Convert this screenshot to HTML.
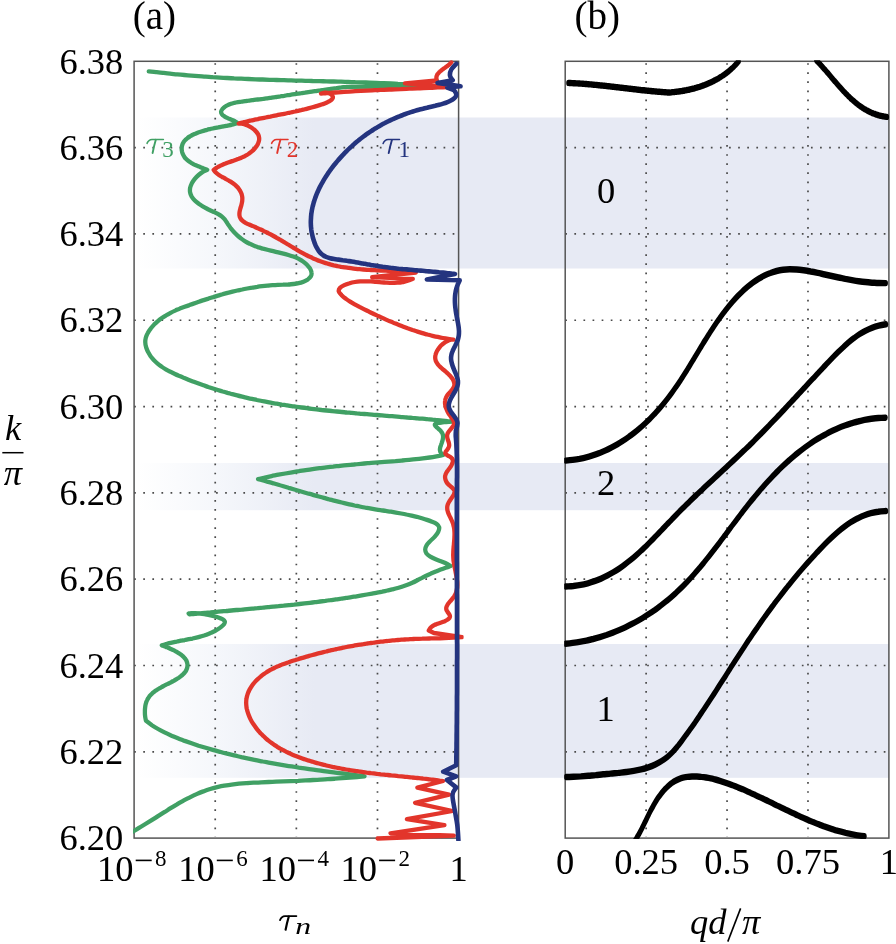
<!DOCTYPE html>
<html><head><meta charset="utf-8">
<style>
html,body{margin:0;padding:0;background:#fff;}
body{width:896px;height:944px;overflow:hidden;}
svg{display:block;will-change:transform;}
.t{font-family:"Liberation Serif",serif;font-size:36.5px;fill:#000;}
.sup{font-size:23px;}
.i{font-family:"Liberation Serif",serif;font-style:italic;}
.g{stroke:#4a4a4a;stroke-width:1.7;stroke-dasharray:1.7 7.4;}
</style></head><body>
<svg width="896" height="944" viewBox="0 0 896 944">
<defs>
<linearGradient id="gr" x1="137.5" y1="0" x2="458.6" y2="0" gradientUnits="userSpaceOnUse">
<stop offset="0" stop-color="#ffffff"/>
<stop offset="0.25" stop-color="#f5f7fb"/>
<stop offset="0.55" stop-color="#e7eaf4"/>
<stop offset="1" stop-color="#e7eaf4"/>
</linearGradient>
<clipPath id="ca"><rect x="133.1" y="60.3" width="330.5" height="780.8000000000001"/></clipPath>
<clipPath id="cb"><rect x="564.2" y="60.3" width="325.69999999999993" height="778.8000000000001"/></clipPath>
</defs>
<rect x="137.5" y="117.5" width="321.1" height="151.0" fill="url(#gr)"/>
<rect x="458.6" y="117.5" width="430.3" height="151.0" fill="#e7eaf4"/>
<rect x="137.5" y="463.0" width="321.1" height="47.2" fill="url(#gr)"/>
<rect x="458.6" y="463.0" width="430.3" height="47.2" fill="#e7eaf4"/>
<rect x="137.5" y="644.0" width="321.1" height="133.8" fill="url(#gr)"/>
<rect x="458.6" y="644.0" width="430.3" height="133.8" fill="#e7eaf4"/>
<line x1="134.15" y1="147.61" x2="457.60" y2="147.61" class="g"/>
<line x1="565.25" y1="147.61" x2="887.90" y2="147.61" class="g"/>
<line x1="134.15" y1="233.92" x2="457.60" y2="233.92" class="g"/>
<line x1="565.25" y1="233.92" x2="887.90" y2="233.92" class="g"/>
<line x1="134.15" y1="320.23" x2="457.60" y2="320.23" class="g"/>
<line x1="565.25" y1="320.23" x2="887.90" y2="320.23" class="g"/>
<line x1="134.15" y1="406.54" x2="457.60" y2="406.54" class="g"/>
<line x1="565.25" y1="406.54" x2="887.90" y2="406.54" class="g"/>
<line x1="134.15" y1="492.86" x2="457.60" y2="492.86" class="g"/>
<line x1="565.25" y1="492.86" x2="887.90" y2="492.86" class="g"/>
<line x1="134.15" y1="579.17" x2="457.60" y2="579.17" class="g"/>
<line x1="565.25" y1="579.17" x2="887.90" y2="579.17" class="g"/>
<line x1="134.15" y1="665.48" x2="457.60" y2="665.48" class="g"/>
<line x1="565.25" y1="665.48" x2="887.90" y2="665.48" class="g"/>
<line x1="134.15" y1="751.79" x2="457.60" y2="751.79" class="g"/>
<line x1="565.25" y1="751.79" x2="887.90" y2="751.79" class="g"/>
<line x1="215.22" y1="63.15" x2="215.22" y2="837.10" class="g"/>
<line x1="646.12" y1="63.15" x2="646.12" y2="837.10" class="g"/>
<line x1="296.35" y1="63.15" x2="296.35" y2="837.10" class="g"/>
<line x1="727.05" y1="63.15" x2="727.05" y2="837.10" class="g"/>
<line x1="377.48" y1="63.15" x2="377.48" y2="837.10" class="g"/>
<line x1="807.98" y1="63.15" x2="807.98" y2="837.10" class="g"/>
<rect x="134.1" y="61.3" width="324.5" height="776.8" fill="none" stroke="#555" stroke-width="1.5"/>
<rect x="565.2" y="61.3" width="323.7" height="776.8" fill="none" stroke="#555" stroke-width="1.5"/>
<g clip-path="url(#ca)">
<path d="M148.8,71.3 C150.0,71.4 153.5,71.9 155.9,72.1 C158.3,72.4 160.6,72.7 163.0,72.9 C165.4,73.2 167.7,73.5 170.1,73.7 C172.5,73.9 174.8,74.2 177.2,74.4 C179.6,74.6 181.9,74.8 184.3,75.0 C186.7,75.2 189.0,75.4 191.4,75.6 C193.8,75.8 196.1,76.0 198.5,76.2 C200.9,76.4 203.2,76.5 205.6,76.7 C208.0,76.9 210.4,77.0 212.7,77.2 C215.1,77.3 217.5,77.5 219.8,77.6 C222.2,77.7 224.6,77.9 227.0,78.0 C229.3,78.1 231.7,78.2 234.1,78.4 C236.5,78.5 238.8,78.6 241.2,78.7 C243.6,78.8 245.9,78.9 248.3,79.0 C250.7,79.1 253.1,79.2 255.4,79.3 C257.8,79.4 260.2,79.5 262.6,79.5 C264.9,79.6 267.3,79.7 269.7,79.8 C272.1,79.9 274.4,79.9 276.8,80.0 C279.2,80.1 281.6,80.2 283.9,80.2 C286.3,80.3 288.7,80.4 291.1,80.4 C293.4,80.5 295.8,80.6 298.2,80.6 C300.6,80.7 302.9,80.7 305.3,80.8 C307.7,80.9 310.1,80.9 312.5,81.0 C314.8,81.0 317.2,81.1 319.6,81.2 C322.0,81.2 324.3,81.3 326.7,81.3 C329.1,81.4 331.5,81.5 333.8,81.5 C336.2,81.6 338.6,81.7 341.0,81.7 C343.3,81.8 345.7,81.9 348.1,81.9 C350.5,82.0 352.8,82.1 355.2,82.2 C357.6,82.2 360.0,82.3 362.3,82.4 C364.7,82.5 367.1,82.5 369.5,82.6 C371.8,82.7 374.2,82.8 376.6,82.9 C379.0,83.0 381.3,83.1 383.7,83.2 C386.1,83.3 388.5,83.4 390.8,83.5 C393.2,83.6 395.6,83.7 397.9,83.9 C400.3,84.0 402.7,84.1 405.1,84.2 C407.4,84.4 409.8,84.5 412.2,84.6 C414.5,84.8 416.9,84.9 419.3,85.1 C421.7,85.2 425.2,85.5 426.4,85.6 L392.0,86.5 L347.0,86.8 C346.4,86.9 344.6,87.1 343.5,87.2 C342.3,87.4 341.1,87.5 339.9,87.7 C338.7,87.9 337.6,88.0 336.4,88.2 C335.2,88.3 334.0,88.5 332.9,88.6 C331.7,88.8 330.5,89.0 329.4,89.1 C328.2,89.3 327.0,89.5 325.9,89.6 C324.7,89.8 323.5,89.9 322.4,90.1 C321.2,90.3 320.0,90.4 318.9,90.6 C317.7,90.8 316.6,90.9 315.4,91.1 C314.2,91.3 313.1,91.5 311.9,91.6 C310.8,91.8 309.6,92.0 308.4,92.1 C307.3,92.3 306.1,92.5 305.0,92.7 C303.8,92.8 302.7,93.0 301.5,93.2 C300.3,93.3 299.2,93.5 298.0,93.7 C296.9,93.9 295.7,94.0 294.6,94.2 C293.4,94.4 292.2,94.6 291.1,94.7 C289.9,94.9 288.8,95.1 287.6,95.2 C286.4,95.4 285.3,95.6 284.1,95.8 C282.9,95.9 281.8,96.1 280.6,96.3 C279.5,96.4 278.3,96.6 277.1,96.8 C276.0,97.0 274.8,97.1 273.6,97.3 C272.4,97.5 271.3,97.6 270.1,97.8 C268.9,98.0 267.8,98.1 266.6,98.3 C265.4,98.5 264.2,98.6 263.0,98.8 C261.9,98.9 260.7,99.1 259.5,99.3 C258.3,99.4 257.1,99.6 255.9,99.7 C254.7,99.9 253.6,100.0 252.4,100.2 C251.2,100.4 250.0,100.5 248.8,100.7 C247.6,100.8 246.4,101.0 245.2,101.1 C244.0,101.3 242.8,101.4 241.6,101.6 C240.4,101.7 239.2,101.9 238.0,102.1 C236.8,102.3 235.6,102.5 234.4,102.8 C233.3,103.1 232.1,103.4 231.0,103.8 C229.9,104.2 228.8,104.6 227.7,105.2 C226.7,105.7 225.6,106.3 224.6,107.0 C223.7,107.7 222.8,108.5 222.2,109.3 C221.6,110.0 221.1,110.9 221.1,111.7 C221.0,112.5 221.3,113.4 221.8,114.1 C222.3,114.9 223.2,115.6 224.2,116.2 C225.1,116.9 226.4,117.5 227.7,118.1 C228.9,118.7 230.3,119.2 231.6,119.8 C232.8,120.3 234.1,120.8 235.1,121.4 C236.2,122.0 237.3,122.9 237.7,123.2 C237.2,123.3 235.7,123.7 234.7,124.0 C233.8,124.2 232.8,124.4 231.9,124.6 C230.9,124.9 230.0,125.1 229.0,125.3 C228.1,125.5 227.2,125.6 226.3,125.8 C225.4,126.0 224.5,126.2 223.6,126.3 C222.7,126.5 221.8,126.7 220.9,126.8 C220.0,127.0 219.1,127.2 218.2,127.4 C217.3,127.5 216.4,127.7 215.5,127.9 C214.6,128.1 213.7,128.3 212.8,128.5 C211.9,128.7 211.0,128.9 210.0,129.1 C209.1,129.3 208.1,129.5 207.2,129.8 C206.2,130.0 205.3,130.3 204.3,130.6 C203.3,130.9 202.3,131.2 201.3,131.5 C200.3,131.8 199.2,132.2 198.2,132.5 C197.2,132.9 196.2,133.3 195.3,133.7 C194.3,134.1 193.3,134.6 192.4,135.0 C191.5,135.5 190.6,136.0 189.8,136.5 C188.9,137.0 188.1,137.6 187.4,138.2 C186.6,138.7 185.9,139.3 185.3,140.0 C184.7,140.6 184.1,141.3 183.7,142.0 C183.2,142.7 182.8,143.5 182.5,144.2 C182.2,145.0 182.0,145.9 181.8,146.7 C181.7,147.5 181.7,148.4 181.7,149.3 C181.7,150.1 181.9,151.0 182.1,151.9 C182.3,152.7 182.6,153.6 183.0,154.4 C183.4,155.3 183.8,156.1 184.4,156.9 C184.9,157.6 185.5,158.4 186.2,159.1 C186.9,159.8 187.7,160.4 188.5,161.0 C189.3,161.6 190.2,162.2 191.1,162.8 C192.0,163.3 193.0,163.8 193.9,164.3 C194.9,164.8 195.9,165.2 196.8,165.6 C197.8,166.1 198.8,166.5 199.7,166.8 C200.7,167.2 201.6,167.6 202.5,167.9 C203.4,168.3 204.2,168.6 205.0,168.9 C205.8,169.3 206.8,169.7 207.2,169.9 C206.5,170.2 204.3,171.1 202.8,171.9 C201.4,172.8 199.9,173.9 198.6,175.0 C197.2,176.2 195.9,177.5 194.8,178.9 C193.7,180.3 192.6,181.8 191.8,183.3 C191.1,184.8 190.4,186.4 190.1,187.9 C189.9,189.4 189.8,191.0 190.1,192.4 C190.3,193.8 190.9,195.2 191.7,196.6 C192.5,197.9 193.6,199.2 194.8,200.4 C196.0,201.6 197.4,202.7 198.8,203.8 C200.3,204.9 201.9,205.9 203.5,206.8 C205.1,207.8 206.8,208.6 208.5,209.5 C210.1,210.3 211.7,211.0 213.3,211.7 C214.8,212.4 216.4,213.1 217.8,213.9 C219.2,214.7 220.5,215.4 221.7,216.4 C222.9,217.4 224.0,218.5 225.0,219.7 C225.9,220.9 226.7,222.3 227.6,223.7 C228.5,225.0 229.4,226.5 230.4,227.8 C231.5,229.1 232.5,230.4 233.7,231.7 C234.8,232.9 236.0,234.1 237.3,235.3 C238.5,236.4 239.8,237.5 241.1,238.5 C242.5,239.5 243.8,240.5 245.2,241.3 C246.7,242.2 248.1,243.0 249.6,243.7 C251.0,244.4 252.5,245.1 254.1,245.7 C255.6,246.3 257.1,246.8 258.7,247.4 C260.3,247.9 261.9,248.3 263.5,248.8 C265.1,249.2 266.7,249.6 268.3,250.0 C270.0,250.4 271.6,250.8 273.3,251.2 C275.0,251.6 276.6,252.0 278.3,252.4 C280.0,252.8 281.7,253.2 283.4,253.6 C285.0,254.0 286.7,254.5 288.4,255.0 C290.1,255.5 291.8,256.0 293.4,256.6 C295.1,257.2 296.7,257.9 298.3,258.6 C299.8,259.4 301.3,260.2 302.7,261.2 C304.1,262.1 305.5,263.2 306.7,264.4 C307.9,265.6 309.0,267.0 309.9,268.3 C310.7,269.7 311.4,271.1 311.5,272.5 C311.7,273.8 311.5,275.2 310.9,276.3 C310.3,277.5 309.1,278.5 307.9,279.4 C306.6,280.3 305.0,281.1 303.5,281.7 C301.9,282.3 300.3,282.8 298.6,283.2 C297.0,283.6 295.3,283.8 293.6,284.0 C291.8,284.2 290.1,284.3 288.3,284.5 C286.6,284.6 284.8,284.6 283.0,284.7 C281.3,284.7 279.5,284.8 277.8,284.9 C276.0,285.0 274.3,285.1 272.5,285.2 C270.8,285.3 269.1,285.5 267.4,285.6 C265.6,285.8 263.9,286.0 262.2,286.2 C260.5,286.4 258.9,286.6 257.2,286.9 C255.5,287.1 253.8,287.4 252.2,287.6 C250.5,287.9 248.8,288.2 247.2,288.5 C245.5,288.8 243.9,289.1 242.3,289.5 C240.6,289.8 239.0,290.2 237.4,290.5 C235.7,290.9 234.1,291.3 232.5,291.7 C230.9,292.1 229.3,292.5 227.6,292.9 C226.0,293.4 224.4,293.8 222.8,294.2 C221.2,294.7 219.6,295.1 218.0,295.6 C216.4,296.1 214.8,296.6 213.2,297.1 C211.6,297.5 210.1,298.0 208.5,298.6 C206.9,299.1 205.3,299.6 203.7,300.1 C202.1,300.6 200.5,301.2 198.9,301.7 C197.3,302.3 195.7,302.8 194.2,303.4 C192.6,303.9 191.0,304.5 189.4,305.1 C187.8,305.6 186.2,306.2 184.6,306.8 C183.0,307.4 181.4,308.0 179.8,308.6 C178.3,309.3 176.7,309.9 175.2,310.6 C173.6,311.3 172.1,312.0 170.6,312.8 C169.1,313.6 167.6,314.4 166.2,315.3 C164.7,316.1 163.3,317.0 161.9,318.0 C160.5,319.0 159.2,320.0 157.9,321.1 C156.6,322.2 155.3,323.4 154.1,324.6 C152.9,325.9 151.7,327.2 150.7,328.6 C149.6,330.0 148.6,331.5 147.8,333.0 C146.9,334.6 146.2,336.2 145.8,337.8 C145.4,339.4 145.2,341.0 145.3,342.6 C145.3,344.3 145.7,345.9 146.2,347.5 C146.7,349.1 147.4,350.7 148.2,352.2 C148.9,353.7 149.9,355.1 150.8,356.5 C151.8,357.8 152.9,359.1 154.0,360.3 C155.2,361.5 156.4,362.6 157.6,363.6 C158.9,364.7 160.2,365.7 161.6,366.6 C162.9,367.6 164.4,368.5 165.8,369.3 C167.3,370.2 168.8,371.0 170.3,371.7 C171.8,372.5 173.3,373.3 174.9,374.0 C176.4,374.7 178.0,375.4 179.6,376.1 C181.1,376.7 182.7,377.4 184.3,378.1 C185.9,378.7 187.5,379.4 189.0,380.0 C190.6,380.6 192.2,381.2 193.8,381.8 C195.4,382.4 197.0,383.0 198.6,383.6 C200.2,384.2 201.8,384.8 203.4,385.3 C205.0,385.9 206.6,386.4 208.2,387.0 C209.8,387.5 211.4,388.0 213.0,388.5 C214.6,389.0 216.2,389.5 217.8,390.0 C219.4,390.5 221.0,391.0 222.7,391.5 C224.3,391.9 225.9,392.4 227.5,392.9 C229.1,393.3 230.8,393.8 232.4,394.2 C234.0,394.6 235.6,395.0 237.3,395.4 C238.9,395.9 240.5,396.3 242.2,396.7 C243.8,397.1 245.4,397.4 247.1,397.8 C248.7,398.2 250.3,398.6 252.0,398.9 C253.6,399.3 255.3,399.6 256.9,400.0 C258.5,400.3 260.2,400.7 261.8,401.0 C263.5,401.3 265.1,401.6 266.8,401.9 C268.4,402.2 270.1,402.6 271.7,402.9 C273.4,403.2 275.0,403.4 276.7,403.7 C278.3,404.0 280.0,404.3 281.7,404.6 C283.3,404.8 285.0,405.1 286.6,405.3 C288.3,405.6 289.9,405.9 291.6,406.1 C293.3,406.3 294.9,406.6 296.6,406.8 C298.3,407.1 299.9,407.3 301.6,407.5 C303.3,407.7 304.9,407.9 306.6,408.2 C308.3,408.4 309.9,408.6 311.6,408.8 C313.3,409.0 314.9,409.2 316.6,409.4 C318.3,409.6 320.0,409.8 321.6,410.0 C323.3,410.1 325.0,410.3 326.7,410.5 C328.3,410.7 330.0,410.9 331.7,411.0 C333.4,411.2 335.0,411.4 336.7,411.5 C338.4,411.7 340.1,411.9 341.8,412.0 C343.4,412.2 345.1,412.3 346.8,412.5 C348.5,412.6 350.1,412.8 351.8,412.9 C353.5,413.1 355.2,413.2 356.9,413.4 C358.5,413.5 360.2,413.7 361.9,413.8 C363.6,413.9 365.3,414.1 367.0,414.2 C368.6,414.4 370.3,414.5 372.0,414.6 C373.7,414.8 375.4,414.9 377.0,415.0 C378.7,415.2 380.4,415.3 382.1,415.4 C383.8,415.6 385.5,415.7 387.1,415.8 C388.8,416.0 390.5,416.1 392.2,416.2 C393.9,416.4 395.5,416.5 397.2,416.6 C398.9,416.8 400.6,416.9 402.3,417.1 C403.9,417.2 405.6,417.3 407.3,417.5 C409.0,417.6 410.7,417.7 412.3,417.9 C414.0,418.0 415.7,418.2 417.4,418.3 C419.1,418.5 420.7,418.6 422.4,418.7 C424.1,418.9 425.8,419.0 427.4,419.2 C429.1,419.3 430.8,419.5 432.5,419.7 C434.1,419.8 435.8,420.0 437.5,420.1 C439.1,420.3 440.8,420.5 442.5,420.6 C444.2,420.8 445.8,421.0 447.5,421.2 C449.2,421.3 451.7,421.6 452.5,421.7 C451.4,421.8 447.9,421.9 446.1,422.0 C444.2,422.2 442.7,422.3 441.3,422.5 C440.0,422.6 438.9,422.8 438.0,423.0 C437.1,423.2 436.5,423.4 436.0,423.6 C435.5,423.8 435.2,424.0 435.0,424.3 C434.8,424.6 434.8,424.8 434.9,425.1 C435.0,425.4 435.3,425.8 435.5,426.1 C435.8,426.4 436.2,426.8 436.6,427.2 C437.1,427.6 437.6,428.0 438.1,428.4 C438.5,428.8 439.1,429.3 439.6,429.7 C440.1,430.2 440.6,430.7 441.0,431.3 C441.4,431.8 441.8,432.3 442.1,432.9 C442.4,433.5 442.7,434.1 442.8,434.7 C443.0,435.4 443.1,436.0 443.1,436.7 C443.1,437.4 443.0,438.1 442.9,438.8 C442.8,439.5 442.6,440.2 442.4,440.9 C442.2,441.6 441.9,442.3 441.7,443.1 C441.4,443.8 441.1,444.5 440.9,445.3 C440.6,446.0 440.4,446.7 440.2,447.4 C440.1,448.1 439.9,448.8 439.9,449.5 C439.9,450.2 439.9,450.8 440.2,451.5 C440.4,452.1 440.7,452.7 441.2,453.3 C441.7,453.9 442.9,454.7 443.2,455.0 C442.1,455.3 438.7,456.0 436.5,456.4 C434.3,456.8 432.0,457.2 429.7,457.5 C427.5,457.8 425.2,458.1 422.9,458.4 C420.7,458.7 418.4,459.0 416.1,459.2 C413.8,459.5 411.5,459.7 409.2,459.9 C406.9,460.1 404.6,460.3 402.3,460.5 C400.0,460.7 397.7,460.9 395.4,461.1 C393.1,461.2 390.8,461.4 388.5,461.6 C386.2,461.8 383.9,462.0 381.6,462.1 C379.2,462.3 376.9,462.5 374.6,462.7 C372.3,462.9 370.0,463.0 367.7,463.2 C365.4,463.4 363.1,463.6 360.8,463.8 C358.5,464.0 356.2,464.2 353.9,464.5 C351.6,464.7 349.3,464.9 347.0,465.1 C344.7,465.4 342.4,465.6 340.1,465.8 C337.8,466.1 335.5,466.3 333.2,466.6 C330.9,466.8 328.6,467.1 326.3,467.4 C324.0,467.7 321.8,467.9 319.5,468.2 C317.2,468.5 314.9,468.8 312.6,469.1 C310.3,469.5 308.0,469.8 305.7,470.1 C303.5,470.5 301.2,470.8 298.9,471.2 C296.6,471.5 294.3,471.9 292.1,472.3 C289.8,472.7 287.5,473.1 285.3,473.5 C283.0,473.9 280.7,474.3 278.4,474.7 C276.2,475.2 273.9,475.6 271.6,476.1 C269.4,476.6 267.1,477.1 264.9,477.6 C262.6,478.1 259.2,478.8 258.1,479.1 C258.9,479.3 261.5,480.0 263.2,480.5 C264.9,481.0 266.5,481.4 268.2,481.9 C269.9,482.4 271.6,482.9 273.3,483.3 C275.0,483.8 276.7,484.3 278.4,484.8 C280.0,485.3 281.7,485.8 283.4,486.3 C285.1,486.8 286.8,487.3 288.5,487.8 C290.1,488.2 291.8,488.7 293.5,489.2 C295.2,489.7 296.9,490.2 298.6,490.7 C300.3,491.2 301.9,491.7 303.6,492.2 C305.3,492.7 307.0,493.2 308.7,493.7 C310.4,494.1 312.1,494.6 313.7,495.1 C315.4,495.6 317.1,496.1 318.8,496.5 C320.5,497.0 322.2,497.5 323.9,497.9 C325.6,498.4 327.3,498.8 329.0,499.3 C330.7,499.7 332.4,500.2 334.1,500.6 C335.8,501.1 337.5,501.5 339.2,501.9 C340.9,502.3 342.6,502.7 344.3,503.1 C346.0,503.5 347.7,503.9 349.4,504.3 C351.1,504.7 352.8,505.1 354.5,505.5 C356.2,505.8 357.9,506.2 359.7,506.5 C361.4,506.9 363.1,507.2 364.8,507.5 C366.6,507.8 368.3,508.2 370.0,508.4 C371.7,508.7 373.5,509.0 375.2,509.3 C376.9,509.6 378.7,509.9 380.4,510.1 C382.1,510.4 383.9,510.6 385.6,510.9 C387.4,511.2 389.1,511.4 390.8,511.7 C392.6,512.0 394.3,512.3 396.0,512.6 C397.8,512.9 399.5,513.2 401.2,513.5 C403.0,513.8 404.7,514.1 406.4,514.5 C408.2,514.8 409.9,515.2 411.6,515.6 C413.3,516.0 415.0,516.4 416.8,516.8 C418.5,517.3 420.2,517.8 421.9,518.3 C423.6,518.8 425.3,519.3 427.0,519.9 C428.7,520.5 430.4,521.1 432.0,521.8 C433.6,522.4 435.5,523.1 436.7,524.0 C437.9,524.9 438.9,526.0 439.2,527.3 C439.4,528.6 438.9,530.4 438.2,531.9 C437.5,533.5 436.1,535.2 434.8,536.7 C433.5,538.2 431.7,539.5 430.4,540.9 C429.1,542.3 427.6,543.6 426.7,545.1 C425.9,546.5 425.2,548.1 425.2,549.5 C425.2,550.9 425.7,552.3 426.5,553.5 C427.4,554.7 428.8,555.7 430.3,556.6 C431.9,557.6 433.8,558.4 435.7,559.2 C437.5,560.0 439.7,560.8 441.5,561.5 C443.4,562.2 445.3,562.9 446.8,563.7 C448.4,564.5 450.0,565.7 450.6,566.1 C449.8,566.4 447.3,567.2 445.6,567.8 C444.0,568.4 442.3,569.0 440.7,569.6 C439.0,570.2 437.4,570.9 435.8,571.5 C434.2,572.2 432.5,572.9 430.9,573.6 C429.4,574.3 427.8,575.0 426.2,575.7 C424.6,576.5 423.1,577.3 421.5,578.1 C420.0,578.8 418.5,579.7 416.9,580.5 C415.4,581.3 413.9,582.1 412.3,582.8 C410.7,583.5 409.1,584.2 407.5,584.8 C405.9,585.4 404.3,586.0 402.6,586.5 C401.0,587.1 399.3,587.6 397.7,588.0 C396.0,588.5 394.3,588.9 392.6,589.3 C390.9,589.8 389.2,590.1 387.5,590.5 C385.8,590.9 384.1,591.2 382.4,591.6 C380.7,591.9 379.0,592.3 377.2,592.6 C375.5,592.9 373.8,593.3 372.1,593.6 C370.4,593.9 368.7,594.2 366.9,594.5 C365.2,594.8 363.5,595.1 361.8,595.4 C360.0,595.7 358.3,596.0 356.6,596.3 C354.9,596.6 353.1,596.8 351.4,597.1 C349.7,597.4 348.0,597.6 346.2,597.9 C344.5,598.2 342.8,598.4 341.0,598.7 C339.3,598.9 337.6,599.2 335.8,599.4 C334.1,599.7 332.4,599.9 330.6,600.2 C328.9,600.4 327.2,600.6 325.4,600.9 C323.7,601.1 322.0,601.3 320.2,601.5 C318.5,601.7 316.8,602.0 315.0,602.2 C313.3,602.4 311.5,602.6 309.8,602.8 C308.1,603.0 306.3,603.2 304.6,603.4 C302.8,603.6 301.1,603.8 299.4,604.0 C297.6,604.2 295.9,604.4 294.1,604.6 C292.4,604.7 290.7,604.9 288.9,605.1 C287.2,605.3 285.4,605.5 283.7,605.7 C282.0,605.8 280.2,606.0 278.5,606.2 C276.7,606.3 275.0,606.5 273.2,606.7 C271.5,606.9 269.8,607.0 268.0,607.2 C266.3,607.4 264.5,607.5 262.8,607.7 C261.0,607.8 259.3,608.0 257.5,608.2 C255.8,608.3 254.1,608.5 252.3,608.6 C250.6,608.8 248.8,609.0 247.1,609.1 C245.3,609.3 243.6,609.4 241.8,609.6 C240.1,609.7 238.4,609.9 236.6,610.0 C234.9,610.2 233.1,610.4 231.4,610.5 C229.6,610.7 227.9,610.8 226.2,611.0 C224.4,611.1 222.7,611.3 220.9,611.4 C219.2,611.6 217.4,611.7 215.7,611.9 C214.0,612.0 212.2,612.2 210.5,612.4 C208.7,612.5 207.0,612.7 205.3,612.8 C203.5,613.0 201.8,613.2 200.0,613.3 C198.3,613.5 196.6,613.6 194.8,613.8 C193.1,614.0 190.5,614.2 189.6,614.3 C189.4,614.2 188.5,613.7 188.6,613.5 C188.8,613.3 189.6,613.1 190.6,613.1 C191.6,613.0 193.0,613.1 194.7,613.2 C196.3,613.3 198.2,613.4 200.2,613.6 C202.2,613.9 204.4,614.2 206.5,614.5 C208.6,614.9 210.8,615.3 212.8,615.8 C214.8,616.3 216.8,616.8 218.4,617.4 C220.1,618.0 221.6,618.6 222.7,619.3 C223.7,620.0 224.5,620.8 224.8,621.6 C225.0,622.4 224.7,623.2 224.1,624.1 C223.6,624.9 222.5,625.8 221.5,626.6 C220.5,627.4 219.4,628.2 218.2,629.0 C217.1,629.7 216.0,630.4 214.9,631.0 C213.7,631.6 212.5,632.2 211.3,632.7 C210.1,633.3 208.9,633.8 207.7,634.2 C206.5,634.7 205.2,635.1 204.0,635.5 C202.7,635.9 201.5,636.3 200.2,636.6 C198.9,637.0 197.7,637.3 196.4,637.6 C195.1,637.9 193.8,638.2 192.5,638.5 C191.2,638.7 189.9,639.0 188.6,639.2 C187.3,639.5 186.0,639.7 184.7,640.0 C183.4,640.2 182.0,640.5 180.7,640.7 C179.4,641.0 178.1,641.2 176.9,641.5 C175.6,641.7 174.3,642.0 173.0,642.3 C171.7,642.6 170.4,642.9 169.2,643.2 C167.9,643.5 166.7,643.9 165.5,644.2 C164.2,644.6 162.4,645.2 161.8,645.4 C162.1,645.5 163.0,645.8 163.7,646.1 C164.4,646.4 165.1,646.6 165.9,646.9 C166.7,647.2 167.5,647.6 168.3,647.9 C169.2,648.2 170.0,648.6 170.9,649.0 C171.8,649.4 172.7,649.8 173.5,650.2 C174.4,650.7 175.3,651.1 176.2,651.6 C177.0,652.1 177.9,652.6 178.7,653.1 C179.5,653.6 180.3,654.1 181.1,654.7 C181.8,655.3 182.5,655.9 183.2,656.5 C183.8,657.1 184.4,657.7 184.9,658.4 C185.4,659.0 185.9,659.7 186.3,660.4 C186.6,661.1 186.9,661.9 187.1,662.6 C187.3,663.3 187.4,664.1 187.5,664.8 C187.5,665.6 187.4,666.4 187.3,667.1 C187.2,667.8 187.0,668.5 186.7,669.2 C186.4,669.9 186.1,670.6 185.7,671.2 C185.3,671.8 184.8,672.4 184.3,673.0 C183.8,673.6 183.2,674.2 182.6,674.8 C182.0,675.3 181.3,675.9 180.6,676.4 C180.0,676.9 179.2,677.5 178.5,678.0 C177.7,678.5 176.9,678.9 176.1,679.4 C175.3,679.9 174.5,680.4 173.7,680.8 C172.8,681.3 172.0,681.7 171.2,682.2 C170.3,682.6 169.5,683.0 168.6,683.5 C167.8,683.9 166.9,684.3 166.1,684.7 C165.3,685.1 164.5,685.6 163.6,686.0 C162.8,686.4 162.0,686.8 161.3,687.3 C160.5,687.7 159.7,688.1 159.0,688.6 C158.2,689.0 157.5,689.4 156.8,689.9 C156.1,690.4 155.4,690.8 154.7,691.3 C154.1,691.8 153.5,692.3 152.8,692.8 C152.2,693.4 151.7,693.9 151.1,694.5 C150.6,695.0 150.0,695.6 149.5,696.2 C149.1,696.9 148.6,697.5 148.2,698.2 C147.8,698.8 147.4,699.5 147.1,700.3 C146.7,701.0 146.4,701.8 146.2,702.5 C145.9,703.3 145.7,704.2 145.5,705.0 C145.3,705.9 145.2,706.8 145.1,707.7 C145.0,708.6 144.9,709.5 144.9,710.4 C144.9,711.3 144.9,712.3 144.9,713.2 C144.9,714.1 145.0,715.0 145.1,715.9 C145.2,716.7 145.3,717.6 145.5,718.4 C145.6,719.3 145.9,720.4 146.0,720.8 C147.0,721.5 149.9,723.8 151.9,725.2 C153.9,726.5 156.0,727.8 158.1,729.0 C160.2,730.2 162.3,731.3 164.5,732.4 C166.7,733.5 168.9,734.5 171.1,735.5 C173.3,736.4 175.6,737.4 177.9,738.3 C180.1,739.2 182.4,740.0 184.7,740.9 C187.0,741.7 189.3,742.5 191.6,743.3 C194.0,744.1 196.3,744.9 198.6,745.7 C201.0,746.4 203.3,747.1 205.7,747.8 C208.0,748.5 210.4,749.2 212.8,749.9 C215.1,750.6 217.5,751.2 219.9,751.8 C222.3,752.5 224.6,753.1 227.0,753.7 C229.4,754.3 231.8,754.9 234.2,755.4 C236.6,756.0 239.0,756.5 241.4,757.1 C243.7,757.6 246.1,758.1 248.5,758.6 C250.9,759.1 253.3,759.6 255.7,760.1 C258.1,760.6 260.5,761.0 262.9,761.5 C265.3,761.9 267.7,762.4 270.1,762.8 C272.5,763.3 274.9,763.7 277.3,764.1 C279.7,764.5 282.1,764.9 284.5,765.3 C286.9,765.7 289.3,766.1 291.7,766.4 C294.1,766.8 296.5,767.2 298.9,767.6 C301.3,767.9 303.7,768.3 306.1,768.6 C308.6,769.0 311.0,769.3 313.4,769.6 C315.8,770.0 318.2,770.3 320.7,770.6 C323.1,771.0 325.5,771.3 327.9,771.6 C330.3,771.9 332.8,772.3 335.2,772.6 C337.6,772.9 340.1,773.2 342.5,773.5 C344.9,773.8 347.4,774.1 349.8,774.4 C352.3,774.7 354.7,775.1 357.2,775.4 C359.6,775.7 363.3,776.1 364.5,776.3 C363.3,776.4 359.6,776.8 357.2,777.0 C354.7,777.2 352.3,777.4 349.8,777.6 C347.3,777.8 344.9,778.0 342.4,778.2 C340.0,778.4 337.5,778.6 335.1,778.7 C332.6,778.9 330.2,779.1 327.7,779.2 C325.3,779.4 322.8,779.5 320.4,779.6 C317.9,779.8 315.5,779.9 313.0,780.0 C310.5,780.2 308.1,780.3 305.6,780.4 C303.2,780.5 300.7,780.6 298.2,780.8 C295.8,780.9 293.3,781.0 290.8,781.1 C288.4,781.2 285.9,781.3 283.4,781.4 C281.0,781.5 278.5,781.6 276.0,781.7 C273.5,781.8 271.1,781.9 268.6,782.0 C266.1,782.1 263.6,782.2 261.2,782.3 C258.7,782.5 256.2,782.6 253.7,782.7 C251.2,782.8 248.8,783.0 246.3,783.1 C243.8,783.3 241.3,783.5 238.9,783.7 C236.4,784.0 234.0,784.3 231.6,784.6 C229.1,784.9 226.7,785.3 224.3,785.7 C221.9,786.1 219.5,786.6 217.2,787.1 C214.8,787.7 212.5,788.3 210.2,789.0 C207.8,789.7 205.6,790.5 203.3,791.4 C201.0,792.2 198.8,793.1 196.6,794.1 C194.3,795.1 192.1,796.2 189.9,797.3 C187.8,798.4 185.6,799.5 183.4,800.7 C181.3,801.9 179.1,803.1 177.0,804.4 C174.9,805.6 172.7,806.9 170.6,808.2 C168.5,809.5 166.4,810.9 164.3,812.2 C162.2,813.5 160.1,814.8 158.0,816.1 C155.9,817.5 153.8,818.8 151.7,820.1 C149.6,821.4 147.5,822.7 145.4,824.0 C143.3,825.3 141.2,826.6 139.0,827.9 C136.9,829.2 134.8,830.5 132.7,831.7 C130.6,833.0 128.5,834.2 126.4,835.4 C124.3,836.6 121.1,838.4 120.0,839.0" fill="none" stroke="#40a064" stroke-width="4.3" stroke-linecap="round" stroke-linejoin="round"/>
<path d="M451.3,62.3 C451.2,62.4 451.0,62.7 450.8,62.9 C450.6,63.1 450.5,63.3 450.3,63.5 C450.1,63.7 449.9,63.9 449.6,64.1 C449.4,64.3 449.2,64.5 449.0,64.7 C448.7,64.9 448.5,65.1 448.2,65.3 C448.0,65.5 447.7,65.7 447.5,65.9 C447.2,66.1 446.9,66.3 446.7,66.5 C446.4,66.7 446.1,66.9 445.8,67.1 C445.6,67.3 445.3,67.5 445.0,67.7 C444.7,67.9 444.4,68.1 444.2,68.3 C443.9,68.5 443.6,68.7 443.3,68.9 C443.0,69.1 442.8,69.3 442.5,69.5 C442.2,69.7 441.9,69.9 441.7,70.1 C441.4,70.3 441.1,70.6 440.9,70.8 C440.6,71.0 440.4,71.2 440.1,71.4 C439.9,71.6 439.7,71.8 439.4,72.1 C439.2,72.3 439.0,72.5 438.8,72.7 C438.6,72.9 438.4,73.2 438.2,73.4 C438.0,73.6 437.8,73.9 437.7,74.1 C437.5,74.3 437.3,74.6 437.2,74.8 C437.1,75.1 437.0,75.3 436.8,75.6 C436.7,75.8 436.7,76.1 436.6,76.3 C436.5,76.6 436.5,76.8 436.4,77.1 C436.4,77.4 436.4,77.6 436.4,77.9 C436.4,78.2 436.4,78.5 436.4,78.7 C436.5,79.0 436.6,79.3 436.6,79.6 C436.7,79.9 436.9,80.4 437.0,80.5 L405.0,83.4 L452.0,86.8 C451.1,86.8 448.2,87.0 446.3,87.1 C444.4,87.2 442.5,87.3 440.6,87.3 C438.7,87.4 436.8,87.5 434.9,87.6 C433.0,87.7 431.1,87.8 429.2,87.9 C427.3,87.9 425.4,88.0 423.5,88.1 C421.6,88.2 419.7,88.3 417.8,88.3 C415.9,88.4 414.0,88.5 412.1,88.6 C410.2,88.7 408.3,88.7 406.4,88.8 C404.5,88.9 402.6,89.0 400.7,89.1 C398.8,89.1 396.9,89.2 395.0,89.3 C393.1,89.4 391.2,89.5 389.3,89.5 C387.4,89.6 385.5,89.7 383.6,89.8 C381.7,89.9 379.8,90.0 377.9,90.1 C376.0,90.2 374.1,90.2 372.2,90.3 C370.3,90.4 368.4,90.5 366.5,90.6 C364.6,90.7 362.7,90.8 360.8,90.9 C358.9,91.0 357.0,91.1 355.1,91.2 C353.2,91.4 351.3,91.5 349.4,91.6 C347.6,91.7 345.7,91.8 343.8,91.9 C341.9,92.1 340.0,92.2 338.1,92.3 C336.2,92.4 334.3,92.6 332.4,92.7 C330.5,92.9 328.6,93.0 326.7,93.1 C324.8,93.3 321.9,93.5 321.0,93.6 C321.7,93.4 323.8,92.7 325.1,92.6 C326.4,92.5 327.8,92.8 328.9,93.2 C329.9,93.6 331.0,94.2 331.7,94.8 C332.3,95.5 332.8,96.2 332.9,96.9 C333.0,97.6 332.7,98.3 332.3,98.9 C331.8,99.5 331.1,100.1 330.3,100.6 C329.6,101.2 328.7,101.7 327.7,102.1 C326.8,102.6 325.8,103.0 324.7,103.4 C323.7,103.8 322.6,104.2 321.5,104.5 C320.4,104.9 319.2,105.3 318.1,105.6 C317.0,105.9 315.9,106.3 314.8,106.6 C313.7,106.9 312.6,107.2 311.5,107.5 C310.4,107.8 309.3,108.1 308.2,108.4 C307.1,108.7 306.0,108.9 304.9,109.2 C303.9,109.5 302.8,109.7 301.7,110.0 C300.7,110.3 299.6,110.5 298.5,110.8 C297.5,111.0 296.4,111.2 295.4,111.5 C294.3,111.7 293.3,111.9 292.2,112.2 C291.2,112.4 290.1,112.6 289.1,112.8 C288.0,113.1 287.0,113.3 286.0,113.5 C284.9,113.7 283.9,113.9 282.8,114.1 C281.8,114.3 280.8,114.5 279.7,114.7 C278.7,114.9 277.7,115.1 276.6,115.3 C275.6,115.5 274.6,115.7 273.5,115.9 C272.5,116.1 271.5,116.3 270.4,116.6 C269.4,116.8 268.4,117.0 267.3,117.2 C266.3,117.4 265.2,117.6 264.2,117.8 C263.2,118.0 262.1,118.2 261.1,118.4 C260.0,118.6 259.0,118.8 257.9,119.1 C256.9,119.3 255.8,119.5 254.8,119.7 C253.7,119.9 252.7,120.2 251.6,120.4 C250.6,120.6 249.5,120.9 248.4,121.1 C247.4,121.4 246.3,121.6 245.2,121.9 C244.1,122.1 243.1,122.4 242.0,122.7 C240.9,122.9 239.2,123.4 238.7,123.5 C239.2,123.5 240.5,123.6 241.5,123.7 C242.4,123.8 243.4,124.0 244.3,124.3 C245.2,124.6 246.2,124.9 247.1,125.3 C248.0,125.7 249.0,126.1 249.8,126.6 C250.7,127.1 251.6,127.6 252.4,128.2 C253.2,128.7 253.9,129.3 254.6,130.0 C255.3,130.6 255.9,131.3 256.5,132.0 C257.1,132.7 257.6,133.4 258.0,134.1 C258.3,134.9 258.7,135.6 258.9,136.4 C259.1,137.2 259.2,138.0 259.2,138.7 C259.2,139.5 259.1,140.3 258.9,141.1 C258.7,141.9 258.5,142.6 258.1,143.4 C257.8,144.2 257.4,144.9 256.9,145.7 C256.4,146.4 255.9,147.2 255.3,147.9 C254.7,148.6 254.0,149.3 253.4,150.0 C252.7,150.6 252.0,151.3 251.2,151.9 C250.5,152.5 249.7,153.1 248.9,153.6 C248.1,154.2 247.3,154.7 246.5,155.2 C245.7,155.6 244.8,156.1 244.0,156.5 C243.1,156.9 242.3,157.3 241.4,157.7 C240.5,158.1 239.7,158.4 238.8,158.8 C237.9,159.1 237.0,159.4 236.1,159.8 C235.2,160.1 234.3,160.4 233.4,160.7 C232.5,161.0 231.7,161.3 230.8,161.6 C229.9,161.9 229.0,162.2 228.1,162.5 C227.2,162.8 226.4,163.1 225.5,163.5 C224.6,163.8 223.8,164.1 223.0,164.5 C222.1,164.9 221.3,165.2 220.5,165.6 C219.7,166.0 218.9,166.4 218.1,166.9 C217.3,167.3 216.6,167.8 215.8,168.3 C215.1,168.8 214.1,169.6 213.7,169.9 C214.1,170.4 215.2,171.8 216.0,172.6 C216.9,173.4 217.9,174.2 218.9,174.9 C219.9,175.6 221.0,176.3 222.2,177.0 C223.3,177.6 224.5,178.2 225.6,178.9 C226.8,179.5 228.0,180.1 229.1,180.8 C230.3,181.5 231.4,182.1 232.5,182.9 C233.6,183.6 234.6,184.4 235.5,185.2 C236.5,186.0 237.3,186.9 238.1,187.8 C238.9,188.8 239.6,189.7 240.1,190.8 C240.7,191.8 241.2,192.9 241.6,194.0 C241.9,195.1 242.2,196.3 242.3,197.5 C242.4,198.7 242.3,199.9 242.2,201.1 C242.0,202.4 241.7,203.7 241.4,204.9 C241.1,206.2 240.6,207.5 240.3,208.7 C240.0,210.0 239.7,211.2 239.5,212.3 C239.4,213.5 239.3,214.6 239.5,215.6 C239.6,216.6 240.0,217.6 240.5,218.4 C241.0,219.3 241.7,220.1 242.6,220.8 C243.4,221.5 244.5,222.2 245.5,222.8 C246.6,223.4 247.8,224.0 249.1,224.5 C250.3,225.1 251.6,225.6 252.8,226.1 C254.1,226.6 255.3,227.2 256.5,227.7 C257.7,228.2 258.9,228.7 260.1,229.3 C261.3,229.8 262.4,230.3 263.5,230.9 C264.7,231.4 265.8,232.0 266.9,232.5 C268.0,233.1 269.1,233.6 270.2,234.2 C271.3,234.8 272.4,235.4 273.5,236.0 C274.6,236.6 275.7,237.2 276.7,237.8 C277.8,238.4 278.9,239.0 280.0,239.7 C281.1,240.3 282.1,241.0 283.2,241.6 C284.3,242.2 285.4,242.9 286.4,243.5 C287.5,244.2 288.6,244.8 289.7,245.5 C290.8,246.2 291.8,246.8 292.9,247.4 C294.0,248.1 295.1,248.7 296.2,249.4 C297.2,250.0 298.3,250.6 299.4,251.3 C300.5,251.9 301.6,252.5 302.7,253.1 C303.8,253.7 304.9,254.3 306.0,254.9 C307.1,255.5 308.2,256.0 309.3,256.6 C310.5,257.1 311.6,257.6 312.7,258.2 C313.8,258.7 315.0,259.2 316.1,259.6 C317.3,260.1 318.4,260.6 319.6,261.0 C320.7,261.4 321.9,261.8 323.1,262.2 C324.2,262.6 325.4,263.0 326.6,263.3 C327.8,263.7 329.0,264.0 330.2,264.4 C331.3,264.7 332.5,265.0 333.8,265.3 C335.0,265.5 336.2,265.8 337.4,266.1 C338.6,266.3 339.8,266.5 341.0,266.8 C342.3,267.0 343.5,267.2 344.7,267.4 C346.0,267.6 347.2,267.8 348.4,267.9 C349.7,268.1 350.9,268.3 352.2,268.4 C353.4,268.6 354.7,268.7 355.9,268.8 C357.2,269.0 358.4,269.1 359.7,269.2 C360.9,269.3 362.2,269.4 363.4,269.5 C364.7,269.6 366.0,269.7 367.2,269.8 C368.5,269.9 369.7,269.9 371.0,270.0 C372.3,270.1 373.5,270.2 374.8,270.2 C376.0,270.3 377.3,270.3 378.6,270.4 C379.8,270.5 381.1,270.5 382.4,270.6 C383.6,270.6 384.9,270.7 386.1,270.7 C387.4,270.8 388.7,270.8 389.9,270.9 C391.2,270.9 392.4,271.0 393.7,271.0 C394.9,271.1 396.2,271.2 397.4,271.2 C398.7,271.3 399.9,271.3 401.2,271.4 C402.4,271.5 403.7,271.5 404.9,271.6 C406.1,271.7 407.4,271.8 408.6,271.9 C409.8,272.0 411.0,272.1 412.3,272.2 C413.5,272.3 415.3,272.4 415.9,272.5 L372.2,277.2 L412.8,278.8 C412.0,279.1 409.4,280.3 407.7,280.8 C406.0,281.4 404.3,281.7 402.6,282.1 C400.9,282.4 399.1,282.6 397.4,282.7 C395.7,282.8 393.9,282.9 392.2,282.9 C390.4,282.9 388.6,282.8 386.9,282.7 C385.1,282.6 383.3,282.4 381.6,282.3 C379.8,282.2 378.0,282.0 376.2,281.8 C374.4,281.7 372.6,281.5 370.9,281.4 C369.1,281.4 367.3,281.3 365.5,281.3 C363.7,281.3 362.0,281.3 360.2,281.4 C358.4,281.5 356.6,281.7 354.9,282.0 C353.1,282.3 351.3,282.7 349.6,283.3 C347.8,283.8 345.9,284.4 344.3,285.2 C342.7,286.0 340.8,287.0 339.9,288.0 C338.9,289.1 338.5,290.3 338.8,291.5 C339.1,292.7 340.5,294.0 341.6,295.2 C342.8,296.4 344.2,297.6 345.7,298.6 C347.1,299.7 348.6,300.7 350.1,301.6 C351.6,302.6 353.2,303.5 354.7,304.3 C356.3,305.2 357.9,306.0 359.5,306.9 C361.1,307.7 362.7,308.5 364.3,309.3 C365.9,310.1 367.5,310.9 369.1,311.7 C370.7,312.4 372.3,313.2 373.9,314.0 C375.5,314.7 377.1,315.5 378.7,316.2 C380.3,317.0 381.9,317.7 383.5,318.4 C385.1,319.2 386.7,319.9 388.3,320.6 C389.9,321.3 391.5,321.9 393.1,322.6 C394.7,323.3 396.3,323.9 397.9,324.6 C399.5,325.2 401.2,325.9 402.8,326.5 C404.4,327.1 406.0,327.7 407.6,328.3 C409.3,328.8 410.9,329.4 412.5,330.0 C414.2,330.5 415.8,331.1 417.5,331.6 C419.1,332.1 420.8,332.6 422.4,333.1 C424.1,333.6 425.8,334.0 427.5,334.5 C429.1,334.9 430.8,335.4 432.5,335.8 C434.2,336.2 435.9,336.6 437.7,336.9 C439.4,337.3 441.1,337.7 442.8,338.0 C444.6,338.3 446.3,338.6 448.1,338.9 C449.8,339.2 452.5,339.6 453.4,339.7 C453.0,339.7 451.9,339.6 451.1,339.7 C450.3,339.8 449.5,340.1 448.6,340.4 C447.8,340.7 447.0,341.1 446.2,341.6 C445.4,342.0 444.6,342.6 443.8,343.2 C443.0,343.8 442.3,344.4 441.5,345.1 C440.8,345.8 440.1,346.6 439.5,347.4 C438.9,348.2 438.3,349.0 437.8,349.8 C437.2,350.6 436.8,351.5 436.4,352.3 C436.0,353.2 435.7,354.0 435.5,354.9 C435.3,355.7 435.2,356.6 435.2,357.4 C435.2,358.2 435.3,359.0 435.5,359.7 C435.6,360.5 435.9,361.2 436.3,361.9 C436.7,362.6 437.1,363.3 437.6,364.0 C438.1,364.7 438.7,365.3 439.3,366.0 C439.9,366.6 440.6,367.3 441.3,367.9 C442.0,368.5 442.7,369.2 443.4,369.8 C444.2,370.4 444.9,371.0 445.7,371.7 C446.4,372.3 447.1,373.0 447.8,373.6 C448.5,374.3 449.2,374.9 449.8,375.6 C450.5,376.3 451.1,377.0 451.6,377.7 C452.2,378.4 452.7,379.1 453.1,379.9 C453.5,380.6 453.8,381.4 454.0,382.2 C454.3,383.0 454.4,383.8 454.4,384.6 C454.3,385.3 454.2,386.1 453.9,386.9 C453.6,387.6 453.1,388.4 452.6,389.1 C452.1,389.8 451.4,390.5 450.8,391.3 C450.2,392.0 449.5,392.7 448.8,393.4 C448.2,394.2 447.6,394.9 447.1,395.6 C446.6,396.4 446.2,397.2 445.9,397.9 C445.5,398.7 445.3,399.5 445.2,400.3 C445.0,401.1 445.0,402.0 445.0,402.8 C445.0,403.6 445.1,404.4 445.3,405.3 C445.4,406.1 445.7,407.0 445.9,407.8 C446.2,408.6 446.6,409.5 447.0,410.3 C447.3,411.1 447.8,412.0 448.2,412.8 C448.7,413.6 449.2,414.4 449.8,415.2 C450.3,416.0 450.9,416.8 451.4,417.6 C452.0,418.4 452.6,419.1 453.0,419.9 C453.4,420.6 453.8,421.4 454.0,422.1 C454.2,422.8 454.2,423.6 454.0,424.3 C453.8,425.0 453.4,425.7 452.9,426.4 C452.5,427.1 451.8,427.9 451.2,428.6 C450.6,429.3 449.9,430.1 449.4,430.8 C448.8,431.6 448.2,432.3 447.8,433.1 C447.5,433.9 447.2,434.7 447.1,435.5 C447.1,436.4 447.2,437.2 447.4,438.1 C447.6,439.0 448.0,439.9 448.2,440.8 C448.5,441.6 448.8,442.5 449.0,443.4 C449.1,444.3 449.3,445.1 449.1,446.0 C449.0,446.8 448.6,447.6 448.2,448.4 C447.8,449.1 447.0,449.9 446.6,450.6 C446.1,451.2 445.5,451.9 445.4,452.5 C445.3,453.1 445.4,453.6 445.7,454.1 C446.1,454.5 446.8,455.0 447.6,455.4 C448.3,455.9 449.2,456.3 450.0,456.8 C450.7,457.3 451.5,457.8 452.0,458.5 C452.5,459.1 452.8,459.8 452.9,460.6 C452.9,461.4 452.8,462.2 452.5,463.1 C452.2,463.9 451.8,464.8 451.3,465.6 C450.9,466.4 450.3,467.2 449.7,468.0 C449.1,468.8 448.5,469.6 448.0,470.3 C447.4,471.1 446.9,471.8 446.4,472.6 C446.0,473.4 445.6,474.2 445.4,475.0 C445.1,475.8 445.0,476.6 445.1,477.5 C445.1,478.3 445.3,479.2 445.6,480.0 C445.9,480.9 446.3,481.7 446.8,482.5 C447.3,483.3 448.0,484.0 448.7,484.7 C449.4,485.4 450.2,486.0 450.9,486.7 C451.6,487.3 452.3,487.9 452.9,488.5 C453.5,489.1 454.0,489.7 454.3,490.3 C454.6,491.0 454.7,491.6 454.6,492.3 C454.5,493.0 454.2,493.8 453.9,494.5 C453.5,495.3 453.0,496.1 452.4,496.9 C451.9,497.7 451.3,498.5 450.7,499.3 C450.2,500.1 449.5,501.0 449.1,501.8 C448.6,502.7 448.1,503.5 447.8,504.4 C447.5,505.3 447.3,506.1 447.2,507.0 C447.2,507.8 447.2,508.7 447.3,509.5 C447.4,510.4 447.7,511.2 447.9,512.0 C448.2,512.9 448.5,513.7 448.9,514.5 C449.2,515.3 449.6,516.1 450.0,516.9 C450.4,517.7 450.9,518.5 451.2,519.4 C451.6,520.2 452.0,521.0 452.3,521.8 C452.7,522.6 452.9,523.4 453.2,524.2 C453.4,525.0 453.6,525.8 453.8,526.7 C454.0,527.5 454.1,528.3 454.2,529.1 C454.3,530.0 454.4,530.8 454.4,531.6 C454.5,532.5 454.5,533.3 454.5,534.1 C454.5,535.0 454.5,535.8 454.4,536.7 C454.4,537.5 454.4,538.4 454.3,539.2 C454.2,540.1 454.2,540.9 454.1,541.8 C454.0,542.7 453.9,543.5 453.9,544.4 C453.8,545.2 453.7,546.1 453.6,547.0 C453.6,547.9 453.5,548.7 453.4,549.6 C453.4,550.5 453.3,551.4 453.3,552.3 C453.3,553.2 453.2,554.1 453.2,555.0 C453.2,555.8 453.3,556.7 453.3,557.6 C453.4,558.5 453.4,559.5 453.5,560.4 C453.6,561.3 453.8,562.2 453.9,563.1 C454.0,564.0 454.2,564.9 454.4,565.8 C454.5,566.7 454.7,567.7 454.9,568.6 C455.1,569.5 455.3,570.4 455.5,571.3 C455.6,572.2 455.8,573.1 456.0,574.0 C456.2,574.9 456.3,575.8 456.5,576.7 C456.6,577.6 456.8,578.5 456.9,579.4 C457.0,580.3 457.1,581.2 457.2,582.1 C457.2,582.9 457.3,583.8 457.3,584.7 C457.3,585.5 457.2,586.4 457.2,587.2 C457.1,588.1 457.0,588.9 456.8,589.7 C456.6,590.6 456.4,591.4 456.2,592.2 C455.9,593.0 455.6,593.8 455.2,594.5 C454.8,595.3 454.4,596.1 453.9,596.8 C453.3,597.6 452.7,598.3 452.1,599.1 C451.6,599.8 450.9,600.5 450.3,601.2 C449.7,601.9 449.0,602.6 448.5,603.3 C448.0,604.0 447.5,604.7 447.1,605.5 C446.7,606.2 446.4,606.9 446.3,607.6 C446.2,608.3 446.2,609.0 446.4,609.8 C446.7,610.5 447.2,611.3 447.6,612.0 C448.1,612.8 448.8,613.5 449.2,614.2 C449.6,615.0 450.0,615.7 450.0,616.3 C450.0,617.0 449.7,617.6 449.3,618.2 C448.8,618.8 448.1,619.3 447.4,619.8 C446.6,620.3 445.7,620.8 444.8,621.2 C443.8,621.6 442.9,621.9 441.9,622.3 C441.0,622.6 440.1,622.9 439.2,623.2 C438.3,623.5 437.4,623.8 436.6,624.1 C435.7,624.4 434.9,624.7 434.1,625.1 C433.4,625.5 432.7,625.9 432.0,626.4 C431.3,626.9 430.7,627.5 430.2,628.2 C429.7,628.8 429.0,630.1 428.8,630.5 L434.0,633.0 L462.0,637.2 L440.0,638.4 C439.4,638.4 437.6,638.4 436.5,638.4 C435.3,638.4 434.1,638.4 432.9,638.4 C431.7,638.4 430.5,638.5 429.4,638.5 C428.2,638.5 427.0,638.5 425.8,638.6 C424.7,638.6 423.5,638.6 422.3,638.7 C421.1,638.7 420.0,638.7 418.8,638.8 C417.6,638.8 416.5,638.9 415.3,638.9 C414.1,639.0 413.0,639.0 411.8,639.1 C410.6,639.2 409.5,639.2 408.3,639.3 C407.2,639.4 406.0,639.4 404.8,639.5 C403.7,639.6 402.5,639.7 401.4,639.7 C400.2,639.8 399.1,639.9 397.9,640.0 C396.7,640.1 395.6,640.2 394.4,640.3 C393.3,640.4 392.1,640.5 391.0,640.6 C389.8,640.7 388.7,640.8 387.5,641.0 C386.4,641.1 385.2,641.2 384.1,641.3 C383.0,641.5 381.8,641.6 380.7,641.7 C379.5,641.9 378.4,642.0 377.2,642.1 C376.1,642.3 374.9,642.4 373.8,642.6 C372.7,642.7 371.5,642.9 370.4,643.0 C369.2,643.2 368.1,643.4 367.0,643.5 C365.8,643.7 364.7,643.9 363.5,644.1 C362.4,644.2 361.3,644.4 360.1,644.6 C359.0,644.8 357.9,645.0 356.7,645.2 C355.6,645.4 354.5,645.6 353.3,645.8 C352.2,646.0 351.0,646.2 349.9,646.4 C348.8,646.6 347.6,646.8 346.5,647.0 C345.4,647.3 344.2,647.5 343.1,647.7 C342.0,647.9 340.8,648.2 339.7,648.4 C338.6,648.6 337.4,648.9 336.3,649.1 C335.2,649.4 334.0,649.6 332.9,649.9 C331.8,650.1 330.6,650.4 329.5,650.7 C328.4,650.9 327.3,651.2 326.1,651.5 C325.0,651.7 323.9,652.0 322.7,652.3 C321.6,652.6 320.5,652.9 319.3,653.2 C318.2,653.5 317.1,653.8 315.9,654.1 C314.8,654.4 313.7,654.7 312.5,655.0 C311.4,655.3 310.3,655.6 309.1,655.9 C308.0,656.2 306.9,656.6 305.7,656.9 C304.6,657.2 303.4,657.5 302.3,657.9 C301.2,658.2 300.0,658.6 298.9,658.9 C297.8,659.3 296.6,659.6 295.5,660.0 C294.4,660.3 293.2,660.7 292.1,661.0 C290.9,661.4 289.8,661.8 288.7,662.2 C287.5,662.6 286.4,663.0 285.3,663.4 C284.2,663.8 283.1,664.2 282.0,664.6 C280.9,665.1 279.8,665.5 278.7,666.0 C277.6,666.4 276.5,666.9 275.4,667.4 C274.4,667.9 273.3,668.4 272.3,669.0 C271.2,669.5 270.2,670.1 269.2,670.6 C268.2,671.2 267.2,671.8 266.2,672.5 C265.2,673.1 264.3,673.8 263.3,674.4 C262.4,675.1 261.5,675.8 260.6,676.6 C259.7,677.3 258.8,678.1 258.0,678.9 C257.1,679.7 256.3,680.5 255.5,681.3 C254.8,682.2 254.0,683.1 253.3,683.9 C252.6,684.8 252.0,685.7 251.3,686.7 C250.7,687.6 250.2,688.6 249.6,689.5 C249.1,690.5 248.7,691.5 248.2,692.5 C247.8,693.5 247.5,694.5 247.2,695.5 C246.9,696.6 246.6,697.6 246.5,698.7 C246.3,699.7 246.2,700.8 246.2,701.9 C246.1,703.0 246.2,704.1 246.3,705.2 C246.4,706.3 246.5,707.4 246.7,708.5 C247.0,709.6 247.2,710.7 247.6,711.8 C247.9,712.9 248.3,714.0 248.7,715.1 C249.1,716.2 249.6,717.3 250.1,718.4 C250.6,719.5 251.2,720.5 251.8,721.6 C252.4,722.6 253.0,723.6 253.7,724.6 C254.4,725.6 255.1,726.6 255.8,727.6 C256.5,728.6 257.3,729.5 258.1,730.5 C258.9,731.4 259.7,732.3 260.5,733.2 C261.4,734.1 262.2,735.0 263.1,735.8 C264.0,736.7 264.9,737.5 265.8,738.3 C266.7,739.1 267.6,739.9 268.5,740.6 C269.5,741.4 270.4,742.1 271.4,742.8 C272.3,743.5 273.3,744.2 274.2,744.9 C275.2,745.5 276.2,746.1 277.2,746.8 C278.2,747.4 279.2,748.0 280.2,748.6 C281.2,749.1 282.2,749.7 283.2,750.2 C284.2,750.8 285.3,751.3 286.3,751.8 C287.3,752.3 288.4,752.8 289.4,753.3 C290.5,753.8 291.5,754.2 292.6,754.7 C293.6,755.1 294.7,755.6 295.8,756.0 C296.8,756.4 297.9,756.8 299.0,757.2 C300.1,757.6 301.2,758.0 302.3,758.4 C303.3,758.8 304.4,759.2 305.5,759.5 C306.6,759.9 307.7,760.3 308.8,760.6 C309.9,761.0 311.0,761.3 312.1,761.6 C313.2,762.0 314.3,762.3 315.4,762.6 C316.5,762.9 317.7,763.2 318.8,763.5 C319.9,763.8 321.0,764.1 322.1,764.4 C323.2,764.7 324.4,765.0 325.5,765.2 C326.6,765.5 327.7,765.8 328.9,766.0 C330.0,766.3 331.1,766.6 332.3,766.8 C333.4,767.0 334.5,767.3 335.7,767.5 C336.8,767.8 338.0,768.0 339.1,768.2 C340.2,768.4 341.4,768.6 342.5,768.8 C343.7,769.1 344.8,769.3 346.0,769.5 C347.1,769.7 348.3,769.9 349.4,770.0 C350.6,770.2 351.7,770.4 352.9,770.6 C354.0,770.8 355.2,771.0 356.3,771.1 C357.5,771.3 358.6,771.5 359.8,771.6 C361.0,771.8 362.1,772.0 363.3,772.1 C364.4,772.3 365.6,772.4 366.8,772.6 C367.9,772.7 369.1,772.9 370.3,773.0 C371.4,773.2 372.6,773.3 373.7,773.4 C374.9,773.6 376.1,773.7 377.2,773.9 C378.4,774.0 379.6,774.1 380.7,774.3 C381.9,774.4 383.1,774.5 384.2,774.6 C385.4,774.8 386.6,774.9 387.7,775.0 C388.9,775.1 390.1,775.2 391.2,775.4 C392.4,775.5 393.6,775.6 394.7,775.7 C395.9,775.8 397.1,776.0 398.2,776.1 C399.4,776.2 400.6,776.3 401.7,776.4 C402.9,776.5 404.1,776.6 405.2,776.8 C406.4,776.9 407.5,777.0 408.7,777.1 C409.9,777.2 411.0,777.3 412.2,777.5 C413.3,777.6 414.5,777.7 415.7,777.8 C416.8,777.9 418.0,778.1 419.1,778.2 C420.3,778.3 421.4,778.4 422.6,778.5 C423.8,778.7 424.9,778.8 426.1,778.9 C427.2,779.0 428.4,779.2 429.5,779.3 C430.7,779.4 431.8,779.6 432.9,779.7 C434.1,779.8 435.2,780.0 436.4,780.1 C437.5,780.3 438.7,780.4 439.8,780.6 C440.9,780.7 442.6,780.9 443.2,781.0 L417.4,787.6 L449.1,794.6 L415.1,802.8 L452.6,811.0 L406.9,819.2 L444.4,825.1 L390.5,833.3 L453.8,835.6 L377.6,838.5" fill="none" stroke="#e2352b" stroke-width="4.3" stroke-linecap="round" stroke-linejoin="round"/>
<path d="M456.3,63.7 C455.5,64.7 452.4,67.5 451.3,69.5 C450.2,71.5 449.8,73.9 450.0,75.7 C450.2,77.5 452.2,79.5 452.7,80.2 L437.5,82.9 L460.5,86.3 L447.3,87.5 L454.0,90.2 C454.4,90.8 455.9,92.7 456.2,93.8 C456.5,94.9 456.2,95.8 455.7,96.6 C455.3,97.5 454.4,98.2 453.5,98.9 C452.6,99.6 451.4,100.2 450.4,100.7 C449.3,101.3 448.1,101.8 446.9,102.3 C445.7,102.8 444.5,103.2 443.2,103.6 C441.9,104.0 440.6,104.4 439.3,104.7 C438.0,105.1 436.7,105.4 435.3,105.8 C433.9,106.1 432.6,106.4 431.2,106.7 C429.8,107.0 428.4,107.3 427.1,107.7 C425.7,108.0 424.3,108.3 423.0,108.7 C421.6,109.0 420.2,109.4 418.9,109.7 C417.6,110.1 416.2,110.5 414.9,110.9 C413.6,111.3 412.3,111.7 411.0,112.1 C409.6,112.5 408.4,113.0 407.1,113.4 C405.8,113.9 404.5,114.4 403.2,114.8 C402.0,115.3 400.7,115.8 399.4,116.3 C398.2,116.8 396.9,117.3 395.7,117.9 C394.5,118.4 393.3,118.9 392.0,119.5 C390.8,120.1 389.6,120.6 388.4,121.2 C387.2,121.8 386.0,122.4 384.9,123.0 C383.7,123.6 382.5,124.3 381.4,124.9 C380.2,125.6 379.0,126.2 377.9,126.9 C376.8,127.6 375.6,128.2 374.5,128.9 C373.4,129.6 372.3,130.4 371.2,131.1 C370.1,131.8 369.0,132.5 367.9,133.3 C366.8,134.0 365.7,134.8 364.7,135.6 C363.6,136.4 362.5,137.2 361.5,138.0 C360.4,138.8 359.4,139.6 358.4,140.5 C357.3,141.3 356.3,142.1 355.3,143.0 C354.3,143.9 353.3,144.8 352.3,145.7 C351.3,146.5 350.3,147.5 349.4,148.4 C348.4,149.3 347.4,150.2 346.5,151.2 C345.5,152.1 344.6,153.1 343.7,154.1 C342.7,155.1 341.8,156.1 340.9,157.1 C340.0,158.1 339.1,159.1 338.2,160.1 C337.3,161.2 336.4,162.2 335.6,163.3 C334.7,164.4 333.8,165.4 333.0,166.5 C332.1,167.6 331.3,168.7 330.5,169.8 C329.7,171.0 328.9,172.1 328.1,173.2 C327.3,174.4 326.6,175.5 325.8,176.7 C325.1,177.8 324.4,179.0 323.7,180.2 C323.0,181.4 322.3,182.6 321.6,183.8 C321.0,185.0 320.3,186.2 319.7,187.4 C319.1,188.6 318.5,189.9 318.0,191.1 C317.4,192.3 316.9,193.6 316.4,194.8 C315.9,196.1 315.4,197.3 315.0,198.6 C314.6,199.9 314.1,201.1 313.8,202.4 C313.4,203.7 313.1,205.0 312.7,206.3 C312.4,207.5 312.2,208.8 311.9,210.1 C311.7,211.4 311.5,212.7 311.3,214.0 C311.2,215.3 311.0,216.7 311.0,218.0 C310.9,219.3 310.8,220.6 310.8,221.9 C310.8,223.2 310.9,224.6 310.9,225.9 C311.0,227.2 311.2,228.5 311.3,229.8 C311.5,231.2 311.7,232.5 312.0,233.8 C312.3,235.1 312.6,236.5 312.9,237.8 C313.3,239.1 313.7,240.4 314.2,241.8 C314.6,243.1 315.2,244.4 315.7,245.7 C316.3,246.9 317.0,248.2 317.7,249.3 C318.4,250.5 319.2,251.6 320.1,252.6 C320.9,253.5 321.9,254.4 323.0,255.1 C324.0,255.9 325.2,256.5 326.4,257.0 C327.6,257.5 328.9,257.9 330.2,258.2 C331.5,258.6 332.9,258.8 334.3,259.0 C335.7,259.3 337.1,259.4 338.5,259.6 C339.9,259.8 341.3,260.0 342.7,260.2 C344.1,260.3 345.5,260.5 346.9,260.8 C348.3,261.0 349.6,261.2 351.0,261.4 C352.3,261.6 353.7,261.8 355.0,262.1 C356.3,262.3 357.7,262.5 359.0,262.8 C360.3,263.0 361.6,263.3 362.9,263.5 C364.2,263.7 365.5,264.0 366.8,264.2 C368.2,264.4 369.5,264.7 370.8,264.9 C372.1,265.1 373.4,265.4 374.7,265.6 C376.0,265.8 377.3,266.0 378.6,266.2 C379.9,266.4 381.2,266.6 382.6,266.8 C383.9,266.9 385.2,267.1 386.5,267.3 C387.9,267.5 389.2,267.6 390.5,267.8 C391.9,267.9 393.2,268.1 394.5,268.2 C395.9,268.4 397.2,268.5 398.5,268.7 C399.9,268.8 401.2,268.9 402.6,269.1 C403.9,269.2 405.3,269.3 406.6,269.4 C408.0,269.6 409.3,269.7 410.7,269.8 C412.0,269.9 413.4,270.0 414.7,270.2 C416.1,270.3 417.4,270.4 418.8,270.5 C420.1,270.6 421.5,270.7 422.8,270.8 C424.2,270.9 425.5,271.1 426.9,271.2 C428.2,271.3 429.6,271.4 430.9,271.5 C432.3,271.6 433.6,271.8 434.9,271.9 C436.3,272.0 437.6,272.1 439.0,272.3 C440.3,272.4 441.7,272.5 443.0,272.6 C444.3,272.8 445.7,272.9 447.0,273.1 C448.4,273.2 449.7,273.4 451.0,273.5 C452.3,273.7 454.3,273.9 455.0,274.0 L426.9,279.5 L459.7,280.3 C459.4,281.0 458.3,283.0 457.8,284.4 C457.2,285.8 456.8,287.1 456.4,288.5 C456.0,289.9 455.7,291.3 455.5,292.7 C455.3,294.0 455.1,295.4 455.0,296.8 C454.9,298.2 454.9,299.6 454.9,301.0 C454.9,302.4 455.0,303.8 455.1,305.2 C455.2,306.7 455.4,308.1 455.6,309.5 C455.7,310.9 456.0,312.4 456.2,313.8 C456.5,315.2 456.7,316.7 457.0,318.1 C457.3,319.6 457.6,321.0 457.9,322.5 C458.1,323.9 458.4,325.4 458.6,326.8 C458.8,328.2 458.9,329.7 459.0,331.1 C459.0,332.5 459.0,334.0 458.8,335.3 C458.6,336.7 458.3,338.1 457.9,339.5 C457.5,340.8 456.9,342.2 456.3,343.5 C455.7,344.8 454.9,346.2 454.3,347.5 C453.7,348.8 453.0,350.1 452.5,351.4 C451.9,352.8 451.5,354.1 451.3,355.5 C451.0,356.8 451.0,358.2 451.1,359.6 C451.2,360.9 451.6,362.3 451.9,363.7 C452.3,365.2 452.8,366.6 453.4,368.0 C453.9,369.4 454.6,370.8 455.1,372.2 C455.7,373.6 456.3,375.0 456.8,376.4 C457.3,377.8 457.7,379.2 457.9,380.5 C458.0,381.9 458.0,383.2 457.8,384.5 C457.6,385.8 457.1,387.1 456.5,388.4 C456.0,389.7 455.2,391.0 454.5,392.3 C453.7,393.6 452.9,394.9 452.1,396.2 C451.4,397.6 450.6,398.9 450.0,400.3 C449.5,401.7 449.0,403.1 448.8,404.5 C448.7,405.8 448.8,407.2 449.2,408.5 C449.6,409.8 450.4,411.1 451.2,412.4 C452.0,413.6 453.1,414.8 454.0,416.0 C454.8,417.2 455.8,418.3 456.4,419.5 C457.0,420.7 457.4,421.9 457.5,423.1 C457.5,424.4 457.1,425.7 456.9,427.0 C456.6,428.4 456.0,429.7 455.9,431.1 C455.7,432.5 455.7,433.8 455.7,435.2 C455.7,436.6 455.9,437.9 456.0,439.3 C456.1,440.7 456.2,442.1 456.3,443.5 C456.4,444.9 456.4,446.3 456.5,447.7 C456.6,449.0 456.6,450.4 456.7,451.9 C456.7,453.3 456.8,454.7 456.8,456.1 C456.8,457.5 456.9,458.9 456.9,460.3 C456.9,461.7 456.9,463.1 456.9,464.6 C457.0,466.0 457.0,467.4 457.0,468.8 C457.0,470.3 457.0,471.7 457.0,473.1 C457.0,474.5 457.0,476.0 457.0,477.4 C456.9,478.8 456.9,480.3 456.9,481.7 C456.9,483.1 456.9,484.6 456.9,486.0 C456.9,487.4 456.9,488.9 456.9,490.3 C456.8,491.7 456.8,493.2 456.8,494.6 C456.8,496.0 456.8,497.5 456.8,498.9 C456.8,500.3 456.8,501.7 456.8,503.2 C456.8,504.6 456.8,506.0 456.8,507.5 C456.8,508.9 456.8,510.3 456.8,511.8 C456.8,513.2 456.8,514.6 456.8,516.0 C456.8,517.5 456.8,518.9 456.8,520.3 C456.8,521.8 456.8,523.2 456.8,524.6 C456.8,526.1 456.8,527.5 456.8,528.9 C456.8,530.3 456.8,531.8 456.8,533.2 C456.8,534.6 456.8,536.1 456.8,537.5 C456.8,538.9 456.8,540.3 456.8,541.8 C456.8,543.2 456.8,544.6 456.8,546.1 C456.8,547.5 456.8,548.9 456.8,550.3 C456.8,551.8 456.8,553.2 456.8,554.6 C456.8,556.1 456.8,557.5 456.8,558.9 C456.8,560.4 456.8,561.8 456.9,563.2 C456.9,564.7 456.9,566.1 456.9,567.5 C456.9,568.9 456.9,570.4 456.9,571.8 C456.9,573.2 456.9,574.7 456.9,576.1 C456.9,577.5 456.9,579.0 456.9,580.4 C456.9,581.8 456.9,583.3 456.9,584.7 C456.9,586.1 456.9,587.5 456.9,589.0 C456.9,590.4 456.9,591.8 456.9,593.3 C457.0,594.7 457.0,596.1 457.0,597.6 C457.0,599.0 457.0,600.4 457.0,601.9 C457.0,603.3 457.0,604.7 457.0,606.2 C457.0,607.6 457.0,609.0 457.0,610.5 C457.0,611.9 457.0,613.3 457.0,614.8 C457.0,616.2 457.0,617.6 457.0,619.1 C457.0,620.5 457.0,621.9 457.0,623.4 C457.0,624.8 457.0,626.2 457.0,627.6 C457.0,629.1 457.0,630.5 457.0,631.9 C457.0,633.4 457.0,634.8 457.0,636.2 C457.0,637.7 457.0,639.1 457.0,640.5 C457.0,642.0 457.1,643.4 457.1,644.8 C457.1,646.3 457.1,647.7 457.1,649.1 C457.1,650.6 457.1,652.0 457.1,653.4 C457.1,654.9 457.1,656.3 457.1,657.7 C457.1,659.2 457.0,660.6 457.0,662.0 C457.0,663.5 457.0,664.9 457.0,666.3 C457.0,667.8 457.0,669.2 457.0,670.6 C457.0,672.1 457.0,673.5 457.0,674.9 C457.0,676.4 457.0,677.8 457.0,679.2 C457.0,680.7 457.0,682.1 457.0,683.5 C457.0,685.0 457.0,686.4 457.0,687.8 C457.0,689.3 457.0,690.7 457.0,692.1 C457.0,693.6 457.0,695.0 456.9,696.4 C456.9,697.9 456.9,699.3 456.9,700.7 C456.9,702.2 456.9,703.6 456.9,705.0 C456.9,706.5 456.9,707.9 456.9,709.3 C456.9,710.8 456.8,712.2 456.8,713.6 C456.8,715.1 456.8,716.5 456.8,717.9 C456.8,719.4 456.8,720.8 456.8,722.2 C456.8,723.7 456.7,725.1 456.7,726.5 C456.7,728.0 456.7,729.4 456.7,730.8 C456.7,732.3 456.6,733.7 456.6,735.1 C456.6,736.6 456.6,738.0 456.6,739.4 C456.6,740.9 456.5,742.3 456.5,743.7 C456.5,745.2 456.5,746.6 456.5,748.0 C456.4,749.4 456.4,750.9 456.4,752.3 C456.4,753.7 456.4,755.2 456.3,756.6 C456.3,758.0 456.3,759.5 456.3,760.9 C456.2,762.3 456.2,764.5 456.2,765.2 L443.2,771.7 L456.2,776.3 L446.9,780.0 L456.2,787.4 C455.6,788.6 452.7,791.0 452.5,794.9 C452.3,798.8 454.1,806.0 454.9,811.0 C455.7,816.0 456.7,820.3 457.3,825.1 C457.9,829.9 458.2,837.5 458.4,840.0" fill="none" stroke="#24347f" stroke-width="4.6" stroke-linecap="round" stroke-linejoin="round"/>
</g>
<g clip-path="url(#cb)">
<g transform="scale(0.720,1)">
<path d="M789.6,82.9 C790.0,82.9 791.2,83.0 792.0,83.0 C792.8,83.0 793.6,83.0 794.4,83.1 C795.2,83.1 796.0,83.1 796.8,83.2 C797.6,83.2 798.4,83.2 799.2,83.3 C800.0,83.3 800.8,83.3 801.6,83.4 C802.4,83.4 803.2,83.4 804.0,83.5 C804.8,83.5 805.6,83.6 806.4,83.6 C807.2,83.6 808.0,83.7 808.8,83.7 C809.6,83.8 810.4,83.8 811.2,83.9 C812.0,83.9 812.8,83.9 813.6,84.0 C814.4,84.0 815.1,84.1 815.9,84.1 C816.7,84.2 817.5,84.2 818.3,84.3 C819.1,84.3 819.9,84.4 820.7,84.4 C821.5,84.5 822.3,84.5 823.1,84.6 C823.9,84.7 824.7,84.7 825.5,84.8 C826.3,84.8 827.1,84.9 827.9,84.9 C828.7,85.0 829.5,85.0 830.3,85.1 C831.1,85.2 831.9,85.2 832.7,85.3 C833.5,85.3 834.3,85.4 835.1,85.5 C835.9,85.5 836.7,85.6 837.4,85.6 C838.2,85.7 839.0,85.8 839.8,85.8 C840.6,85.9 841.4,85.9 842.2,86.0 C843.0,86.1 843.8,86.1 844.6,86.2 C845.4,86.3 846.2,86.3 847.0,86.4 C847.8,86.5 848.6,86.5 849.4,86.6 C850.2,86.7 851.0,86.7 851.8,86.8 C852.6,86.9 853.4,86.9 854.1,87.0 C854.9,87.1 855.7,87.1 856.5,87.2 C857.3,87.3 858.1,87.3 858.9,87.4 C859.7,87.5 860.5,87.5 861.3,87.6 C862.1,87.7 862.9,87.7 863.7,87.8 C864.5,87.9 865.3,87.9 866.1,88.0 C866.9,88.1 867.7,88.1 868.5,88.2 C869.2,88.3 870.0,88.3 870.8,88.4 C871.6,88.5 872.4,88.5 873.2,88.6 C874.0,88.7 874.8,88.7 875.6,88.8 C876.4,88.9 877.2,88.9 878.0,89.0 C878.8,89.1 879.6,89.1 880.4,89.2 C881.2,89.3 882.0,89.3 882.8,89.4 C883.6,89.5 884.4,89.5 885.1,89.6 C885.9,89.7 886.7,89.7 887.5,89.8 C888.3,89.8 889.1,89.9 889.9,90.0 C890.7,90.0 891.5,90.1 892.3,90.2 C893.1,90.2 893.9,90.3 894.7,90.3 C895.5,90.4 896.3,90.5 897.1,90.5 C897.9,90.6 898.7,90.6 899.5,90.7 C900.3,90.8 901.1,90.8 901.9,90.9 C902.6,90.9 903.4,91.0 904.2,91.0 C905.0,91.1 905.8,91.2 906.6,91.2 C907.4,91.3 908.2,91.3 909.0,91.4 C909.8,91.4 910.6,91.5 911.4,91.5 C912.2,91.6 913.0,91.6 913.8,91.7 C914.6,91.7 915.4,91.8 916.2,91.8 C917.0,91.9 917.8,91.9 918.6,92.0 C919.4,92.0 920.2,92.1 921.0,92.1 C921.8,92.2 922.6,92.2 923.4,92.2 C924.2,92.3 925.0,92.3 925.8,92.4 C926.6,92.4 927.4,92.5 928.2,92.5 C929.0,92.5 930.2,92.6 930.6,92.6" fill="none" stroke="#000" stroke-width="6.4" stroke-linecap="round" stroke-linejoin="round"/>
<path d="M933.3,92.2 C933.6,92.2 934.5,92.1 935.1,92.1 C935.7,92.0 936.3,92.0 936.8,92.0 C937.4,91.9 938.0,91.9 938.6,91.8 C939.2,91.8 939.8,91.7 940.3,91.7 C940.9,91.6 941.5,91.6 942.1,91.5 C942.7,91.5 943.3,91.4 943.8,91.3 C944.4,91.3 945.0,91.2 945.6,91.2 C946.2,91.1 946.8,91.0 947.3,91.0 C947.9,90.9 948.5,90.8 949.1,90.7 C949.7,90.7 950.3,90.6 950.8,90.5 C951.4,90.4 952.0,90.4 952.6,90.3 C953.2,90.2 953.7,90.1 954.3,90.0 C954.9,89.9 955.5,89.9 956.1,89.8 C956.6,89.7 957.2,89.6 957.8,89.5 C958.4,89.4 958.9,89.3 959.5,89.2 C960.1,89.1 960.7,89.0 961.2,88.9 C961.8,88.8 962.4,88.7 963.0,88.6 C963.5,88.5 964.1,88.4 964.7,88.3 C965.2,88.1 965.8,88.0 966.4,87.9 C967.0,87.8 967.5,87.7 968.1,87.5 C968.7,87.4 969.2,87.3 969.8,87.2 C970.4,87.1 970.9,86.9 971.5,86.8 C972.0,86.7 972.6,86.5 973.2,86.4 C973.7,86.3 974.3,86.1 974.8,86.0 C975.4,85.8 976.0,85.7 976.5,85.5 C977.1,85.4 977.6,85.2 978.2,85.1 C978.7,84.9 979.3,84.8 979.8,84.6 C980.4,84.5 980.9,84.3 981.5,84.2 C982.0,84.0 982.5,83.8 983.1,83.7 C983.6,83.5 984.2,83.3 984.7,83.2 C985.3,83.0 985.8,82.8 986.3,82.7 C986.9,82.5 987.4,82.3 987.9,82.1 C988.5,81.9 989.0,81.8 989.5,81.6 C990.0,81.4 990.6,81.2 991.1,81.0 C991.6,80.8 992.1,80.6 992.7,80.4 C993.2,80.2 993.7,80.0 994.2,79.8 C994.7,79.6 995.2,79.4 995.8,79.2 C996.3,79.0 996.8,78.8 997.3,78.6 C997.8,78.4 998.3,78.2 998.8,77.9 C999.3,77.7 999.8,77.5 1000.3,77.3 C1000.8,77.1 1001.3,76.8 1001.8,76.6 C1002.3,76.4 1002.8,76.1 1003.3,75.9 C1003.8,75.7 1004.2,75.4 1004.7,75.2 C1005.2,75.0 1005.7,74.7 1006.2,74.5 C1006.6,74.2 1007.1,74.0 1007.6,73.7 C1008.1,73.5 1008.5,73.2 1009.0,73.0 C1009.5,72.7 1009.9,72.4 1010.4,72.2 C1010.9,71.9 1011.3,71.7 1011.8,71.4 C1012.2,71.1 1012.7,70.9 1013.1,70.6 C1013.6,70.3 1014.0,70.0 1014.5,69.8 C1014.9,69.5 1015.4,69.2 1015.8,68.9 C1016.2,68.6 1016.7,68.3 1017.1,68.0 C1017.5,67.8 1018.0,67.5 1018.4,67.2 C1018.8,66.9 1019.2,66.6 1019.7,66.3 C1020.1,66.0 1020.5,65.7 1020.9,65.3 C1021.3,65.0 1021.7,64.7 1022.1,64.4 C1022.5,64.1 1022.9,63.8 1023.3,63.5 C1023.7,63.1 1024.1,62.8 1024.5,62.5 C1024.9,62.2 1025.5,61.7 1025.7,61.5" fill="none" stroke="#000" stroke-width="6.4" stroke-linecap="round" stroke-linejoin="round"/>
<path d="M1134.0,60.5 C1134.3,60.7 1135.0,61.2 1135.5,61.6 C1136.0,62.0 1136.4,62.3 1136.9,62.7 C1137.4,63.1 1137.9,63.4 1138.4,63.8 C1138.9,64.2 1139.3,64.5 1139.8,64.9 C1140.3,65.3 1140.8,65.7 1141.3,66.1 C1141.7,66.4 1142.2,66.8 1142.7,67.2 C1143.2,67.6 1143.6,68.0 1144.1,68.4 C1144.6,68.8 1145.1,69.2 1145.5,69.6 C1146.0,69.9 1146.5,70.3 1147.0,70.7 C1147.4,71.1 1147.9,71.5 1148.4,71.9 C1148.9,72.3 1149.3,72.7 1149.8,73.1 C1150.3,73.5 1150.8,73.9 1151.2,74.3 C1151.7,74.7 1152.2,75.1 1152.7,75.5 C1153.1,75.9 1153.6,76.3 1154.1,76.7 C1154.6,77.2 1155.0,77.6 1155.5,78.0 C1156.0,78.4 1156.5,78.8 1156.9,79.2 C1157.4,79.6 1157.9,80.0 1158.4,80.4 C1158.9,80.8 1159.3,81.2 1159.8,81.6 C1160.3,82.0 1160.8,82.4 1161.3,82.8 C1161.8,83.2 1162.2,83.6 1162.7,84.0 C1163.2,84.4 1163.7,84.8 1164.2,85.2 C1164.7,85.6 1165.2,86.0 1165.6,86.4 C1166.1,86.8 1166.6,87.2 1167.1,87.6 C1167.6,88.0 1168.1,88.4 1168.6,88.8 C1169.1,89.2 1169.6,89.6 1170.1,90.0 C1170.6,90.4 1171.1,90.8 1171.6,91.2 C1172.1,91.6 1172.6,91.9 1173.1,92.3 C1173.6,92.7 1174.1,93.1 1174.6,93.5 C1175.1,93.9 1175.7,94.2 1176.2,94.6 C1176.7,95.0 1177.2,95.4 1177.7,95.7 C1178.2,96.1 1178.8,96.5 1179.3,96.8 C1179.8,97.2 1180.3,97.6 1180.9,97.9 C1181.4,98.3 1181.9,98.6 1182.5,99.0 C1183.0,99.3 1183.5,99.7 1184.1,100.0 C1184.6,100.4 1185.2,100.7 1185.7,101.1 C1186.2,101.4 1186.8,101.7 1187.3,102.1 C1187.9,102.4 1188.4,102.7 1189.0,103.1 C1189.6,103.4 1190.1,103.7 1190.7,104.0 C1191.3,104.3 1191.8,104.7 1192.4,105.0 C1193.0,105.3 1193.5,105.6 1194.1,105.9 C1194.7,106.2 1195.3,106.5 1195.9,106.8 C1196.4,107.1 1197.0,107.4 1197.6,107.6 C1198.2,107.9 1198.8,108.2 1199.4,108.5 C1200.0,108.7 1200.6,109.0 1201.2,109.3 C1201.8,109.5 1202.4,109.8 1203.1,110.0 C1203.7,110.3 1204.3,110.5 1204.9,110.8 C1205.5,111.0 1206.2,111.2 1206.8,111.5 C1207.4,111.7 1208.1,111.9 1208.7,112.1 C1209.4,112.4 1210.0,112.6 1210.6,112.8 C1211.3,113.0 1212.0,113.2 1212.6,113.4 C1213.3,113.6 1213.9,113.8 1214.6,113.9 C1215.3,114.1 1216.0,114.3 1216.6,114.5 C1217.3,114.6 1218.0,114.8 1218.7,114.9 C1219.4,115.1 1220.1,115.2 1220.8,115.4 C1221.5,115.5 1222.2,115.6 1222.9,115.8 C1223.6,115.9 1224.3,116.0 1225.0,116.1 C1225.7,116.2 1226.5,116.3 1227.2,116.4 C1227.9,116.5 1228.7,116.6 1229.4,116.7 C1230.2,116.8 1231.3,116.9 1231.7,116.9" fill="none" stroke="#000" stroke-width="6.4" stroke-linecap="round" stroke-linejoin="round"/>
<path d="M785.7,460.6 C787.3,460.5 792.2,460.2 795.3,459.9 C798.5,459.6 801.7,459.3 804.8,458.9 C807.9,458.4 811.0,457.9 814.1,457.3 C817.2,456.8 820.2,456.1 823.2,455.4 C826.2,454.7 829.2,454.0 832.1,453.2 C835.0,452.3 837.9,451.4 840.8,450.5 C843.7,449.6 846.5,448.6 849.3,447.5 C852.1,446.5 854.8,445.4 857.6,444.2 C860.3,443.1 863.0,441.9 865.6,440.6 C868.3,439.4 870.9,438.1 873.5,436.7 C876.1,435.4 878.6,434.0 881.1,432.6 C883.6,431.2 886.1,429.7 888.5,428.2 C891.0,426.7 893.3,425.2 895.7,423.6 C898.0,422.0 900.3,420.4 902.6,418.8 C904.9,417.2 907.1,415.5 909.3,413.8 C911.5,412.2 913.6,410.4 915.7,408.7 C917.8,407.0 919.9,405.2 921.9,403.4 C923.9,401.6 925.9,399.8 927.8,398.0 C929.7,396.2 931.6,394.4 933.5,392.5 C935.3,390.7 937.1,388.8 938.9,386.9 C940.7,385.1 942.5,383.2 944.2,381.3 C945.9,379.4 947.7,377.5 949.4,375.5 C951.0,373.6 952.7,371.7 954.4,369.8 C956.1,367.8 957.7,365.9 959.3,363.9 C961.0,362.0 962.6,360.0 964.3,358.1 C965.9,356.1 967.5,354.2 969.2,352.2 C970.8,350.3 972.5,348.3 974.1,346.4 C975.8,344.4 977.4,342.4 979.1,340.5 C980.8,338.6 982.5,336.6 984.2,334.7 C985.9,332.7 987.6,330.8 989.4,328.9 C991.1,327.0 992.9,325.0 994.7,323.1 C996.5,321.2 998.4,319.4 1000.2,317.5 C1002.1,315.6 1004.0,313.7 1006.0,311.9 C1008.0,310.0 1010.0,308.2 1012.0,306.4 C1014.0,304.6 1016.1,302.8 1018.3,301.0 C1020.4,299.3 1022.6,297.6 1024.8,295.9 C1027.0,294.2 1029.3,292.6 1031.6,291.0 C1033.9,289.5 1036.3,288.0 1038.7,286.5 C1041.1,285.1 1043.5,283.7 1046.1,282.4 C1048.6,281.1 1051.1,279.8 1053.7,278.7 C1056.3,277.6 1059.0,276.5 1061.7,275.5 C1064.4,274.6 1067.2,273.7 1070.0,273.0 C1072.8,272.2 1075.7,271.6 1078.6,271.0 C1081.5,270.5 1084.5,270.1 1087.6,269.8 C1090.6,269.5 1093.7,269.3 1096.8,269.3 C1100.0,269.3 1103.2,269.4 1106.4,269.5 C1109.6,269.7 1112.9,270.0 1116.1,270.3 C1119.4,270.6 1122.7,271.0 1126.0,271.5 C1129.3,271.9 1132.6,272.4 1135.8,272.9 C1139.1,273.4 1142.4,274.0 1145.6,274.5 C1148.8,275.0 1152.0,275.5 1155.2,276.0 C1158.4,276.5 1161.5,277.0 1164.7,277.5 C1167.8,278.0 1170.9,278.4 1174.0,278.9 C1177.1,279.3 1180.2,279.7 1183.3,280.1 C1186.4,280.5 1189.5,280.9 1192.6,281.2 C1195.6,281.5 1198.7,281.8 1201.8,282.0 C1204.9,282.3 1208.0,282.5 1211.2,282.7 C1214.3,282.8 1217.4,283.0 1220.6,283.0 C1223.7,283.1 1228.5,283.1 1230.1,283.1" fill="none" stroke="#000" stroke-width="6.4" stroke-linecap="round" stroke-linejoin="round"/>
<path d="M785.6,586.5 C787.4,586.4 792.8,586.2 796.3,586.0 C799.8,585.7 803.2,585.4 806.6,584.9 C809.9,584.5 813.2,583.9 816.4,583.3 C819.6,582.7 822.8,582.0 825.8,581.2 C828.9,580.4 831.9,579.5 834.9,578.6 C837.9,577.7 840.8,576.7 843.6,575.6 C846.5,574.5 849.3,573.4 852.0,572.2 C854.8,571.0 857.5,569.8 860.2,568.5 C862.8,567.2 865.5,565.8 868.0,564.4 C870.6,563.0 873.2,561.6 875.7,560.1 C878.2,558.6 880.7,557.1 883.2,555.5 C885.6,553.9 888.1,552.3 890.5,550.7 C892.9,549.1 895.3,547.4 897.7,545.8 C900.0,544.1 902.4,542.4 904.7,540.7 C907.1,539.0 909.4,537.2 911.7,535.5 C914.0,533.8 916.4,532.0 918.7,530.3 C921.0,528.5 923.3,526.8 925.6,525.0 C927.9,523.3 930.2,521.5 932.6,519.8 C934.9,518.0 937.2,516.3 939.5,514.6 C941.9,512.8 944.2,511.1 946.6,509.4 C948.9,507.7 951.3,506.1 953.7,504.4 C956.1,502.7 958.5,501.1 960.8,499.4 C963.2,497.7 965.6,496.1 968.0,494.5 C970.4,492.8 972.8,491.2 975.3,489.6 C977.7,487.9 980.1,486.3 982.5,484.7 C984.9,483.1 987.3,481.5 989.8,479.8 C992.2,478.2 994.6,476.6 997.0,475.0 C999.4,473.4 1001.9,471.8 1004.3,470.2 C1006.7,468.6 1009.1,467.0 1011.5,465.3 C1013.9,463.7 1016.3,462.1 1018.7,460.5 C1021.1,458.9 1023.5,457.3 1025.9,455.6 C1028.3,454.0 1030.7,452.4 1033.1,450.7 C1035.5,449.1 1037.8,447.4 1040.2,445.8 C1042.6,444.1 1044.9,442.4 1047.3,440.8 C1049.6,439.1 1051.9,437.4 1054.3,435.7 C1056.6,434.0 1058.9,432.3 1061.2,430.6 C1063.5,428.9 1065.8,427.2 1068.1,425.5 C1070.4,423.7 1072.7,422.0 1075.0,420.3 C1077.3,418.6 1079.6,416.8 1081.9,415.1 C1084.1,413.4 1086.4,411.6 1088.7,409.9 C1091.0,408.1 1093.2,406.4 1095.5,404.6 C1097.8,402.9 1100.0,401.1 1102.3,399.4 C1104.6,397.6 1106.8,395.8 1109.1,394.1 C1111.4,392.3 1113.6,390.6 1115.9,388.8 C1118.1,387.0 1120.4,385.3 1122.7,383.5 C1124.9,381.8 1127.2,380.0 1129.5,378.3 C1131.8,376.5 1134.0,374.7 1136.3,373.0 C1138.6,371.2 1140.9,369.5 1143.1,367.8 C1145.4,366.0 1147.7,364.3 1150.0,362.5 C1152.3,360.8 1154.6,359.1 1156.9,357.3 C1159.2,355.6 1161.5,353.9 1163.9,352.2 C1166.2,350.5 1168.6,348.9 1171.0,347.3 C1173.4,345.6 1175.8,344.1 1178.3,342.5 C1180.8,341.0 1183.3,339.5 1185.9,338.2 C1188.5,336.8 1191.1,335.4 1193.8,334.2 C1196.5,333.0 1199.3,331.8 1202.2,330.7 C1205.1,329.7 1208.0,328.7 1211.0,327.9 C1214.1,327.0 1217.2,326.3 1220.5,325.7 C1223.7,325.1 1228.8,324.5 1230.5,324.3" fill="none" stroke="#000" stroke-width="6.4" stroke-linecap="round" stroke-linejoin="round"/>
<path d="M785.6,643.7 C787.3,643.6 792.1,643.3 795.4,642.9 C798.6,642.6 801.8,642.3 805.0,641.9 C808.2,641.5 811.4,641.1 814.5,640.6 C817.7,640.1 820.8,639.5 823.9,639.0 C827.0,638.4 830.1,637.8 833.2,637.1 C836.3,636.4 839.3,635.7 842.3,635.0 C845.3,634.2 848.3,633.4 851.3,632.6 C854.3,631.8 857.2,630.9 860.1,630.0 C863.1,629.1 866.0,628.2 868.8,627.2 C871.7,626.2 874.5,625.2 877.4,624.1 C880.2,623.1 883.0,622.0 885.7,620.9 C888.5,619.7 891.2,618.6 893.9,617.4 C896.6,616.2 899.3,615.0 901.9,613.7 C904.6,612.5 907.2,611.2 909.8,609.9 C912.3,608.5 914.9,607.2 917.4,605.8 C919.9,604.4 922.4,603.0 924.8,601.6 C927.3,600.2 929.7,598.7 932.1,597.2 C934.5,595.7 936.8,594.2 939.1,592.7 C941.4,591.1 943.7,589.5 945.9,588.0 C948.2,586.4 950.4,584.8 952.6,583.1 C954.8,581.5 956.9,579.8 959.0,578.2 C961.2,576.5 963.3,574.8 965.3,573.1 C967.4,571.4 969.5,569.7 971.5,567.9 C973.6,566.2 975.6,564.4 977.6,562.7 C979.6,560.9 981.6,559.1 983.5,557.3 C985.5,555.5 987.5,553.7 989.4,551.9 C991.4,550.1 993.3,548.3 995.3,546.4 C997.2,544.6 999.1,542.8 1001.0,540.9 C1003.0,539.1 1004.9,537.2 1006.8,535.4 C1008.7,533.5 1010.6,531.7 1012.6,529.8 C1014.5,528.0 1016.4,526.1 1018.3,524.3 C1020.3,522.4 1022.2,520.6 1024.1,518.7 C1026.1,516.9 1028.0,515.0 1030.0,513.2 C1031.9,511.3 1033.9,509.5 1035.9,507.7 C1037.9,505.8 1039.9,504.0 1041.9,502.2 C1043.9,500.4 1046.0,498.6 1048.0,496.8 C1050.1,495.0 1052.1,493.2 1054.2,491.5 C1056.3,489.7 1058.4,487.9 1060.5,486.2 C1062.7,484.4 1064.8,482.7 1067.0,481.0 C1069.2,479.3 1071.4,477.6 1073.6,475.9 C1075.8,474.3 1078.0,472.6 1080.3,471.0 C1082.5,469.4 1084.8,467.8 1087.1,466.2 C1089.4,464.6 1091.8,463.0 1094.1,461.5 C1096.5,460.0 1098.8,458.5 1101.3,457.0 C1103.7,455.5 1106.1,454.0 1108.6,452.6 C1111.0,451.2 1113.5,449.8 1116.0,448.5 C1118.5,447.1 1121.1,445.8 1123.7,444.5 C1126.2,443.2 1128.8,441.9 1131.5,440.7 C1134.1,439.5 1136.8,438.3 1139.5,437.2 C1142.2,436.0 1144.9,434.9 1147.7,433.9 C1150.4,432.8 1153.2,431.8 1156.0,430.8 C1158.9,429.8 1161.7,428.9 1164.6,428.0 C1167.5,427.1 1170.4,426.3 1173.4,425.5 C1176.3,424.7 1179.3,424.0 1182.3,423.3 C1185.4,422.7 1188.4,422.0 1191.5,421.5 C1194.6,420.9 1197.7,420.4 1200.8,419.9 C1203.9,419.5 1207.1,419.1 1210.3,418.8 C1213.5,418.5 1216.7,418.2 1220.0,418.0 C1223.2,417.9 1228.2,417.8 1229.8,417.7" fill="none" stroke="#000" stroke-width="6.4" stroke-linecap="round" stroke-linejoin="round"/>
<path d="M786.3,777.0 C788.0,777.0 793.1,776.9 796.5,776.8 C799.9,776.7 803.3,776.5 806.7,776.4 C810.1,776.2 813.5,776.0 817.0,775.8 C820.4,775.6 823.8,775.3 827.3,775.1 C830.7,774.8 834.2,774.6 837.7,774.3 C841.1,774.1 844.7,773.8 848.2,773.6 C851.7,773.4 855.3,773.1 858.9,772.9 C862.4,772.6 866.0,772.4 869.6,772.0 C873.1,771.7 876.7,771.4 880.2,770.9 C883.7,770.5 887.1,770.0 890.5,769.4 C893.9,768.8 897.2,768.1 900.4,767.3 C903.6,766.5 906.8,765.6 909.8,764.6 C912.9,763.5 915.8,762.4 918.6,761.1 C921.5,759.9 924.2,758.5 926.8,757.0 C929.4,755.4 931.8,753.8 934.2,752.0 C936.5,750.3 938.7,748.4 940.9,746.5 C943.0,744.6 945.1,742.6 947.2,740.6 C949.3,738.6 951.3,736.6 953.3,734.6 C955.4,732.6 957.4,730.5 959.4,728.5 C961.4,726.5 963.4,724.4 965.4,722.4 C967.3,720.3 969.3,718.2 971.2,716.2 C973.2,714.1 975.1,712.0 977.1,709.9 C979.0,707.9 980.9,705.8 982.8,703.7 C984.7,701.6 986.6,699.5 988.5,697.4 C990.4,695.3 992.3,693.2 994.2,691.1 C996.1,689.0 998.0,686.8 999.8,684.7 C1001.7,682.6 1003.6,680.5 1005.5,678.4 C1007.3,676.3 1009.2,674.2 1011.1,672.0 C1013.0,669.9 1014.8,667.8 1016.7,665.7 C1018.6,663.6 1020.5,661.5 1022.3,659.4 C1024.2,657.3 1026.1,655.2 1028.0,653.1 C1029.9,651.0 1031.8,648.9 1033.7,646.8 C1035.6,644.7 1037.5,642.6 1039.4,640.5 C1041.4,638.5 1043.3,636.4 1045.2,634.3 C1047.2,632.3 1049.1,630.2 1051.1,628.2 C1053.1,626.1 1055.0,624.1 1057.0,622.0 C1059.0,620.0 1061.0,618.0 1063.0,615.9 C1065.0,613.9 1067.0,611.9 1069.1,609.9 C1071.1,607.9 1073.2,605.9 1075.2,603.9 C1077.3,601.9 1079.4,599.9 1081.5,598.0 C1083.6,596.0 1085.7,594.0 1087.8,592.1 C1089.9,590.1 1092.1,588.2 1094.2,586.2 C1096.4,584.3 1098.6,582.3 1100.8,580.4 C1103.0,578.5 1105.2,576.6 1107.4,574.7 C1109.6,572.7 1111.9,570.8 1114.2,568.9 C1116.4,567.1 1118.7,565.2 1121.0,563.3 C1123.3,561.4 1125.7,559.5 1128.0,557.7 C1130.4,555.8 1132.7,554.0 1135.1,552.1 C1137.5,550.3 1139.9,548.4 1142.4,546.6 C1144.8,544.8 1147.3,543.0 1149.8,541.2 C1152.3,539.4 1154.8,537.7 1157.4,536.0 C1160.0,534.3 1162.6,532.6 1165.2,531.0 C1167.9,529.4 1170.6,527.9 1173.4,526.4 C1176.1,524.9 1178.9,523.5 1181.8,522.2 C1184.7,520.9 1187.6,519.7 1190.6,518.6 C1193.7,517.5 1196.7,516.4 1199.9,515.5 C1203.0,514.6 1206.2,513.8 1209.6,513.2 C1212.9,512.6 1216.2,512.0 1219.7,511.7 C1223.2,511.3 1228.6,511.1 1230.4,511.0" fill="none" stroke="#000" stroke-width="6.4" stroke-linecap="round" stroke-linejoin="round"/>
<path d="M879.9,843.0 C880.4,842.4 882.2,840.5 883.3,839.2 C884.4,837.9 885.5,836.6 886.5,835.2 C887.6,833.9 888.6,832.5 889.6,831.1 C890.6,829.8 891.6,828.4 892.5,827.0 C893.5,825.5 894.5,824.1 895.4,822.7 C896.4,821.3 897.4,819.8 898.3,818.4 C899.3,816.9 900.3,815.5 901.3,814.0 C902.3,812.6 903.3,811.2 904.4,809.7 C905.4,808.3 906.5,806.8 907.6,805.4 C908.8,804.0 909.9,802.6 911.1,801.2 C912.3,799.8 913.5,798.4 914.8,797.1 C916.1,795.8 917.4,794.5 918.7,793.2 C920.1,792.0 921.5,790.8 922.9,789.6 C924.4,788.5 925.9,787.4 927.5,786.3 C929.0,785.3 930.6,784.3 932.3,783.4 C933.9,782.6 935.6,781.7 937.4,781.0 C939.2,780.3 941.0,779.6 942.9,779.1 C944.8,778.6 946.7,778.1 948.7,777.7 C950.7,777.4 952.8,777.1 954.8,776.9 C956.9,776.7 959.0,776.6 961.1,776.5 C963.3,776.4 965.4,776.4 967.6,776.5 C969.7,776.6 971.9,776.7 974.1,776.9 C976.3,777.0 978.4,777.2 980.6,777.5 C982.8,777.8 984.9,778.1 987.1,778.4 C989.2,778.7 991.3,779.1 993.5,779.5 C995.6,779.9 997.7,780.3 999.8,780.8 C1001.9,781.3 1004.0,781.8 1006.1,782.3 C1008.2,782.8 1010.3,783.3 1012.3,783.8 C1014.4,784.4 1016.5,785.0 1018.5,785.5 C1020.6,786.1 1022.6,786.7 1024.7,787.3 C1026.7,787.9 1028.7,788.5 1030.8,789.1 C1032.8,789.8 1034.8,790.4 1036.8,791.0 C1038.8,791.7 1040.8,792.3 1042.8,793.0 C1044.8,793.6 1046.8,794.3 1048.8,794.9 C1050.8,795.6 1052.8,796.3 1054.7,797.0 C1056.7,797.6 1058.7,798.3 1060.7,799.0 C1062.6,799.7 1064.6,800.3 1066.6,801.0 C1068.5,801.7 1070.5,802.4 1072.5,803.1 C1074.4,803.8 1076.4,804.5 1078.3,805.2 C1080.3,805.8 1082.2,806.5 1084.2,807.2 C1086.2,807.9 1088.1,808.6 1090.1,809.3 C1092.0,810.0 1094.0,810.6 1095.9,811.3 C1097.9,812.0 1099.9,812.7 1101.8,813.3 C1103.8,814.0 1105.8,814.6 1107.7,815.3 C1109.7,815.9 1111.7,816.6 1113.6,817.2 C1115.6,817.9 1117.6,818.5 1119.6,819.1 C1121.5,819.7 1123.5,820.4 1125.5,821.0 C1127.5,821.6 1129.5,822.2 1131.5,822.7 C1133.5,823.3 1135.5,823.9 1137.5,824.4 C1139.5,825.0 1141.5,825.5 1143.6,826.1 C1145.6,826.6 1147.6,827.1 1149.7,827.6 C1151.7,828.1 1153.8,828.6 1155.8,829.1 C1157.9,829.6 1159.9,830.0 1162.0,830.5 C1164.1,830.9 1166.2,831.3 1168.3,831.7 C1170.4,832.1 1172.5,832.5 1174.6,832.9 C1176.7,833.2 1178.8,833.6 1181.0,833.9 C1183.1,834.2 1185.3,834.5 1187.4,834.8 C1189.6,835.1 1191.8,835.4 1194.0,835.6 C1196.1,835.8 1199.5,836.1 1200.6,836.2" fill="none" stroke="#000" stroke-width="6.4" stroke-linecap="round" stroke-linejoin="round"/>
</g>
</g>
<text x="123.3" y="73.5" text-anchor="end" class="t">6.38</text>
<text x="123.3" y="159.8" text-anchor="end" class="t">6.36</text>
<text x="123.3" y="246.1" text-anchor="end" class="t">6.34</text>
<text x="123.3" y="332.4" text-anchor="end" class="t">6.32</text>
<text x="123.3" y="418.7" text-anchor="end" class="t">6.30</text>
<text x="123.3" y="505.1" text-anchor="end" class="t">6.28</text>
<text x="123.3" y="591.4" text-anchor="end" class="t">6.26</text>
<text x="123.3" y="677.7" text-anchor="end" class="t">6.24</text>
<text x="123.3" y="764.0" text-anchor="end" class="t">6.22</text>
<text x="123.3" y="850.3" text-anchor="end" class="t">6.20</text>
<text x="133.6" y="881" text-anchor="end" class="t">10</text>
<rect x="135.7" y="859.6" width="16" height="1.6" fill="#000"/>
<text x="155.1" y="865.7" class="t sup">8</text>
<text x="214.7" y="881" text-anchor="end" class="t">10</text>
<rect x="216.8" y="859.6" width="16" height="1.6" fill="#000"/>
<text x="236.2" y="865.7" class="t sup">6</text>
<text x="295.9" y="881" text-anchor="end" class="t">10</text>
<rect x="298.0" y="859.6" width="16" height="1.6" fill="#000"/>
<text x="317.4" y="865.7" class="t sup">4</text>
<text x="377.0" y="881" text-anchor="end" class="t">10</text>
<rect x="379.1" y="859.6" width="16" height="1.6" fill="#000"/>
<text x="398.5" y="865.7" class="t sup">2</text>
<text x="458.6" y="880.6" text-anchor="middle" class="t">1</text>
<text x="565.2" y="874" text-anchor="middle" class="t">0</text>
<text x="646.1" y="874" text-anchor="middle" class="t">0.25</text>
<text x="727.0" y="874" text-anchor="middle" class="t">0.5</text>
<text x="808.0" y="874" text-anchor="middle" class="t">0.75</text>
<text x="888.9" y="874" text-anchor="middle" class="t">1</text>
<!-- panel labels -->
<text x="154.4" y="28.5" text-anchor="middle" class="t" style="font-size:39px">(a)</text>
<text x="597.3" y="28.5" text-anchor="middle" class="t" style="font-size:39px">(b)</text>
<!-- band numbers -->
<text x="606" y="202.5" text-anchor="middle" class="t">0</text>
<text x="606" y="495.4" text-anchor="middle" class="t">2</text>
<text x="605.5" y="720.9" text-anchor="middle" class="t">1</text>
<!-- y axis label k/pi -->
<text x="13" y="439.7" text-anchor="middle" class="t i">k</text>
<line x1="2.3" y1="452.7" x2="23.5" y2="452.7" stroke="#000" stroke-width="1.5"/>
<text x="13" y="484.8" text-anchor="middle" class="t i">&#960;</text>
<!-- x axis labels -->
<path d="M280.00,920.10 Q281.60,916.20 285.00,916.10 L296.40,916.10" fill="none" stroke="#000" stroke-width="1.78" stroke-linecap="round"/><path d="M288.80,916.50 Q287.00,922.60 285.60,929.70" fill="none" stroke="#000" stroke-width="2.18" stroke-linecap="round"/>
<text x="0" y="0" class="t i" style="font-size:23px" transform="translate(295.2,933.6) scale(1.38,1)">n</text>
<text x="690" y="933.5" class="t i">qd</text>
<line x1="740.6" y1="908.4" x2="727.8" y2="941.6" stroke="#000" stroke-width="1.6"/>
<text x="742" y="933.5" class="t i">&#960;</text>
<!-- tau labels -->
<path d="M147.00,143.40 Q148.60,139.50 152.00,139.40 L163.40,139.40" fill="none" stroke="#40a064" stroke-width="1.55" stroke-linecap="round"/><path d="M155.80,139.80 Q154.00,145.90 152.60,153.00" fill="none" stroke="#40a064" stroke-width="1.90" stroke-linecap="round"/>
<path d="M271.60,143.40 Q273.20,139.50 276.60,139.40 L288.00,139.40" fill="none" stroke="#e2352b" stroke-width="1.55" stroke-linecap="round"/><path d="M280.40,139.80 Q278.60,145.90 277.20,153.00" fill="none" stroke="#e2352b" stroke-width="1.90" stroke-linecap="round"/>
<path d="M383.10,143.50 Q384.70,139.60 388.10,139.50 L399.50,139.50" fill="none" stroke="#24347f" stroke-width="1.55" stroke-linecap="round"/><path d="M391.90,139.90 Q390.10,146.00 388.70,153.10" fill="none" stroke="#24347f" stroke-width="1.90" stroke-linecap="round"/>
<text x="168" y="156.8" text-anchor="middle" class="t sup" style="fill:#40a064">3</text>
<text x="292.6" y="156.8" text-anchor="middle" class="t sup" style="fill:#e2352b">2</text>
<text x="404.2" y="156.8" text-anchor="middle" class="t sup" style="fill:#24347f">1</text>
</svg>
</body></html>
